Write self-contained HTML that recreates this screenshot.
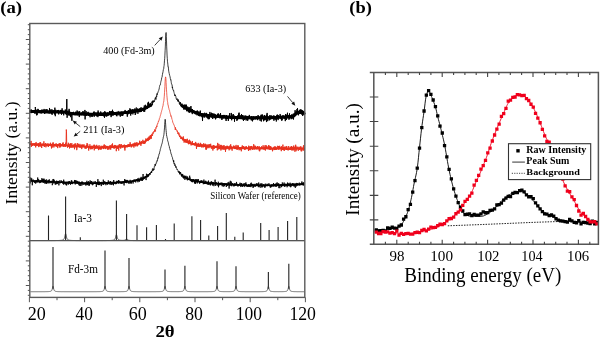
<!DOCTYPE html>
<html><head><meta charset="utf-8"><style>
html,body{margin:0;padding:0;background:#fff;}
body{width:602px;height:338px;overflow:hidden;}
svg{display:block;filter:blur(0.3px);}
</style></head><body>
<svg width="602" height="338" viewBox="0 0 602 338" font-family='"Liberation Serif", serif'>
<rect width="602" height="338" fill="#fff"/>
<polyline points="30.50,111.57 31.50,111.58 32.50,111.60 33.50,111.61 34.50,111.62 35.50,111.63 36.50,111.65 37.50,111.66 38.50,111.67 39.50,111.68 40.50,111.70 41.50,111.71 42.50,111.72 43.50,111.73 44.50,111.74 45.50,111.76 46.50,111.77 47.50,111.78 48.50,111.79 49.50,111.80 50.50,111.81 51.50,111.83 52.50,111.84 53.50,111.85 54.50,111.86 55.50,111.87 56.50,111.88 57.50,111.89 58.50,111.90 59.50,111.91 60.50,111.93 61.50,111.94 62.50,111.95 63.50,111.96 64.50,112.11 65.50,112.40 66.50,112.70 67.50,112.99 68.50,113.29 69.50,113.58 70.50,113.74 71.50,113.77 72.50,113.80 73.50,113.83 74.50,113.85 75.50,113.88 76.50,113.91 77.50,113.93 78.50,113.96 79.50,113.99 80.50,114.01 81.50,114.04 82.50,114.06 83.50,114.09 84.50,114.11 85.50,114.13 86.50,114.16 87.50,114.18 88.50,114.20 89.50,114.23 90.50,114.25 91.50,114.27 92.50,114.29 93.50,114.31 94.50,114.33 95.50,114.35 96.50,114.37 97.50,114.39 98.50,114.41 99.50,114.43 100.50,114.40 101.50,114.35 102.50,114.29 103.50,114.23 104.50,114.17 105.50,114.11 106.50,114.05 107.50,113.98 108.50,113.92 109.50,113.85 110.50,113.78 111.50,113.71 112.50,113.64 113.50,113.57 114.50,113.50 115.50,113.42 116.50,113.34 117.50,113.26 118.50,113.18 119.50,113.09 120.50,113.00 121.50,112.91 122.50,112.82 123.50,112.72 124.50,112.61 125.50,112.51 126.50,112.39 127.50,112.27 128.50,112.15 129.50,112.02 130.50,111.88 131.50,111.73 132.50,111.58 133.50,111.41 134.50,111.23 135.50,111.06 136.50,110.87 137.50,110.67 138.50,110.45 139.50,110.22 140.50,109.95 141.50,109.66 142.50,109.34 143.50,108.99 144.50,108.59 145.50,108.14 146.50,107.64 147.50,107.07 148.50,106.43 149.50,105.69" fill="none" stroke="#000" stroke-width="3.0" stroke-linejoin="round" stroke-linecap="round"/>
<polyline points="182.10,105.73 183.10,106.53 184.10,107.23 185.10,107.85 186.10,108.40 187.10,108.89 188.10,109.33 189.10,109.72 190.10,110.10 191.10,110.61 192.10,111.09 193.10,111.55 194.10,111.99 195.10,112.40 196.10,112.80 197.10,113.19 198.10,113.56 199.10,113.92 200.10,114.25 201.10,114.43 202.10,114.59 203.10,114.74 204.10,114.89 205.10,115.03 206.10,115.16 207.10,115.29 208.10,115.42 209.10,115.54 210.10,115.66 211.10,115.77 212.10,115.88 213.10,115.99 214.10,116.09 215.10,116.19 216.10,116.29 217.10,116.39 218.10,116.48 219.10,116.58 220.10,116.67 221.10,116.76 222.10,116.85 223.10,116.93 224.10,117.02 225.10,117.10 226.10,117.14 227.10,117.17 228.10,117.21 229.10,117.25 230.10,117.28 231.10,117.32 232.10,117.35 233.10,117.38 234.10,117.41 235.10,117.44 236.10,117.47 237.10,117.50 238.10,117.53 239.10,117.56 240.10,117.59 241.10,117.62 242.10,117.65 243.10,117.67 244.10,117.70 245.10,117.73 246.10,117.75 247.10,117.78 248.10,117.80 249.10,117.83 250.10,117.85 251.10,117.85 252.10,117.84 253.10,117.84 254.10,117.84 255.10,117.84 256.10,117.83 257.10,117.83 258.10,117.83 259.10,117.82 260.10,117.82 261.10,117.81 262.10,117.81 263.10,117.81 264.10,117.80 265.10,117.80 266.10,117.79 267.10,117.79 268.10,117.78 269.10,117.78 270.10,117.76 271.10,117.71 272.10,117.65 273.10,117.60 274.10,117.54 275.10,117.49 276.10,117.43 277.10,117.37 278.10,117.32 279.10,117.26 280.10,117.20 281.10,117.15 282.10,117.09 283.10,117.03 284.10,116.98 285.10,116.92 286.10,116.86 287.10,116.80 288.10,116.75 289.10,116.69 290.10,116.62 291.10,116.42 292.10,116.22 293.10,116.03 294.10,115.73 295.10,114.57 296.10,113.40 297.10,112.36 298.10,112.36 299.10,112.36 300.10,112.31 301.10,111.81 302.10,111.47 303.10,112.47 304.10,113.47" fill="none" stroke="#000" stroke-width="3.0" stroke-linejoin="round" stroke-linecap="round"/>
<polyline points="30.50,112.16 30.70,112.97 30.90,112.14 31.10,109.36 31.30,113.12 31.50,112.34 31.70,110.67 31.90,112.58 32.10,112.21 32.30,112.09 32.50,111.65 32.70,112.53 32.90,110.35 33.10,111.33 33.30,110.79 33.50,112.63 33.70,111.68 33.90,111.12 34.10,110.29 34.30,111.18 34.50,111.64 34.70,111.16 34.90,113.83 35.10,113.34 35.30,107.02 35.50,108.42 35.70,111.34 35.90,110.92 36.10,112.01 36.30,112.01 36.50,115.25 36.70,109.76 36.90,111.01 37.10,115.13 37.30,112.76 37.50,112.79 37.70,110.79 37.90,108.86 38.10,111.95 38.30,111.85 38.50,109.59 38.70,110.51 38.90,111.55 39.10,110.07 39.30,111.51 39.50,111.85 39.70,111.75 39.90,110.83 40.10,112.70 40.30,113.21 40.50,112.24 40.70,110.31 40.90,112.94 41.10,110.85 41.30,113.20 41.50,109.89 41.70,113.27 41.90,111.68 42.10,109.59 42.30,111.18 42.50,111.81 42.70,112.19 42.90,110.06 43.10,109.85 43.30,112.07 43.50,110.94 43.70,112.14 43.90,113.03 44.10,108.94 44.30,112.17 44.50,113.83 44.70,111.24 44.90,110.37 45.10,113.03 45.30,112.18 45.50,113.28 45.70,111.17 45.90,109.24 46.10,111.58 46.30,111.01 46.50,113.09 46.70,112.10 46.90,109.00 47.10,109.74 47.30,113.28 47.50,112.94 47.70,110.69 47.90,111.78 48.10,112.54 48.30,112.59 48.50,113.28 48.70,112.23 48.90,111.64 49.10,111.36 49.30,113.60 49.50,107.98 49.70,111.57 49.90,111.86 50.10,109.39 50.30,112.38 50.50,110.71 50.70,113.28 50.90,111.61 51.10,112.96 51.30,113.90 51.50,112.48 51.70,110.34 51.90,109.26 52.10,114.81 52.30,111.65 52.50,110.67 52.70,112.09 52.90,111.52 53.10,113.29 53.30,111.90 53.50,111.87 53.70,110.64 53.90,112.65 54.10,110.10 54.30,112.99 54.50,114.45 54.70,109.27 54.90,107.67 55.10,112.92 55.30,116.20 55.50,110.17 55.70,109.75 55.90,112.88 56.10,110.45 56.30,111.02 56.50,111.29 56.70,112.79 56.90,111.20 57.10,112.36 57.30,111.59 57.50,110.46 57.70,111.35 57.90,110.28 58.10,111.91 58.30,109.99 58.50,110.05 58.70,114.38 58.90,111.82 59.10,111.82 59.30,112.78 59.50,111.20 59.70,111.53 59.90,112.64 60.10,112.40 60.30,109.95 60.50,113.34 60.70,110.92 60.90,110.13 61.10,110.40 61.30,111.27 61.50,114.70 61.70,109.94 61.90,112.21 62.10,108.31 62.30,111.94 62.50,113.48 62.70,111.55 62.90,110.88 63.10,112.35 63.30,113.14 63.50,113.08 63.70,115.31 63.90,112.32 64.10,110.98 64.30,111.84 64.50,111.99 64.70,112.35 64.90,112.18 65.10,112.58 65.30,109.50 65.50,113.81 65.70,111.49 65.90,110.53 66.10,113.67 66.30,114.88 66.50,113.54 66.70,99.03 66.90,99.33 67.10,117.76 67.30,114.43 67.50,111.06 67.70,111.73 67.90,113.26 68.10,110.53 68.30,113.52 68.50,112.51 68.70,115.43 68.90,115.04 69.10,108.86 69.30,113.60 69.50,110.83 69.70,115.53 69.90,113.99 70.10,114.67 70.30,111.93 70.50,116.85 70.70,117.18 70.90,111.95 71.10,114.39 71.30,112.62 71.50,113.73 71.70,116.13 71.90,120.78 72.10,112.14 72.30,113.29 72.50,114.65 72.70,112.70 72.90,113.40 73.10,112.86 73.30,113.59 73.50,111.84 73.70,113.09 73.90,113.49 74.10,113.28 74.30,113.94 74.50,113.36 74.70,115.14 74.90,113.31 75.10,113.64 75.30,112.74 75.50,112.99 75.70,111.74 75.90,114.77 76.10,111.95 76.30,112.63 76.50,114.52 76.70,114.60 76.90,113.24 77.10,110.49 77.30,114.64 77.50,114.37 77.70,111.54 77.90,115.25 78.10,112.76 78.30,112.04 78.50,114.12 78.70,113.66 78.90,114.31 79.10,111.25 79.30,117.06 79.50,112.96 79.70,111.37 79.90,115.05 80.10,113.40 80.30,114.56 80.50,113.43 80.70,113.91 80.90,114.44 81.10,112.76 81.30,115.18 81.50,113.24 81.70,112.56 81.90,114.18 82.10,114.81 82.30,113.67 82.50,112.59 82.70,115.12 82.90,111.08 83.10,112.32 83.30,114.15 83.50,111.77 83.70,114.14 83.90,114.00 84.10,115.63 84.30,112.55 84.50,113.05 84.70,114.68 84.90,109.94 85.10,119.39 85.30,112.94 85.50,112.89 85.70,115.60 85.90,114.08 86.10,111.12 86.30,115.22 86.50,115.61 86.70,113.40 86.90,113.69 87.10,115.00 87.30,112.63 87.50,114.93 87.70,114.52 87.90,113.04 88.10,111.83 88.30,113.82 88.50,112.72 88.70,115.91 88.90,114.46 89.10,115.55 89.30,114.45 89.50,114.67 89.70,112.90 89.90,115.37 90.10,117.27 90.30,113.72 90.50,113.24 90.70,113.99 90.90,113.44 91.10,113.07 91.30,114.50 91.50,113.78 91.70,116.72 91.90,114.28 92.10,114.83 92.30,115.91 92.50,113.78 92.70,116.74 92.90,113.22 93.10,112.93 93.30,113.69 93.50,114.12 93.70,111.93 93.90,114.26 94.10,111.49 94.30,116.70 94.50,114.20 94.70,113.25 94.90,112.80 95.10,113.69 95.30,113.97 95.50,112.58 95.70,112.79 95.90,114.04 96.10,113.48 96.30,115.96 96.50,116.31 96.70,114.40 96.90,115.18 97.10,112.11 97.30,115.47 97.50,114.34 97.70,115.22 97.90,117.12 98.10,110.52 98.30,114.85 98.50,112.54 98.70,115.42 98.90,112.18 99.10,113.58 99.30,114.77 99.50,115.47 99.70,114.56 99.90,113.08 100.10,113.49 100.30,115.92 100.50,114.40 100.70,111.53 100.90,115.82 101.10,115.08 101.30,115.84 101.50,113.77 101.70,115.74 101.90,112.52 102.10,115.28 102.30,113.47 102.50,115.44 102.70,115.99 102.90,113.01 103.10,114.17 103.30,114.31 103.50,116.25 103.70,115.43 103.90,112.13 104.10,114.97 104.30,115.45 104.50,117.78 104.70,111.30 104.90,113.23 105.10,116.40 105.30,111.82 105.50,112.07 105.70,114.97 105.90,115.81 106.10,112.93 106.30,114.98 106.50,114.24 106.70,116.61 106.90,114.02 107.10,115.69 107.30,112.46 107.50,113.67 107.70,113.80 107.90,115.89 108.10,114.93 108.30,112.65 108.50,115.08 108.70,115.21 108.90,113.70 109.10,113.44 109.30,113.53 109.50,110.97 109.70,114.16 109.90,114.22 110.10,112.34 110.30,115.06 110.50,111.45 110.70,112.83 110.90,112.95 111.10,117.12 111.30,111.01 111.50,114.67 111.70,115.30 111.90,114.33 112.10,115.68 112.30,111.95 112.50,109.77 112.70,114.93 112.90,111.58 113.10,113.05 113.30,111.58 113.50,115.36 113.70,115.03 113.90,112.32 114.10,115.06 114.30,113.72 114.50,113.26 114.70,113.58 114.90,113.12 115.10,114.50 115.30,113.96 115.50,112.83 115.70,115.12 115.90,112.35 116.10,113.86 116.30,114.08 116.50,115.86 116.70,112.47 116.90,116.27 117.10,113.59 117.30,112.95 117.50,112.12 117.70,114.24 117.90,113.31 118.10,111.34 118.30,111.28 118.50,112.23 118.70,112.01 118.90,115.00 119.10,115.47 119.30,114.59 119.50,113.70 119.70,112.35 119.90,113.15 120.10,114.54 120.30,116.65 120.50,114.56 120.70,112.51 120.90,113.03 121.10,112.13 121.30,111.60 121.50,112.60 121.70,113.23 121.90,116.00 122.10,112.94 122.30,115.14 122.50,115.82 122.70,112.93 122.90,115.51 123.10,113.97 123.30,112.03 123.50,113.17 123.70,112.74 123.90,112.28 124.10,112.32 124.30,112.88 124.50,113.35 124.70,111.09 124.90,112.56 125.10,109.96 125.30,112.97 125.50,113.57 125.70,112.76 125.90,112.95 126.10,113.44 126.30,111.29 126.50,111.99 126.70,113.24 126.90,114.05 127.10,112.99 127.30,116.64 127.50,112.12 127.70,113.95 127.90,114.38 128.10,111.97 128.30,110.78 128.50,110.14 128.70,112.40 128.90,113.99 129.10,112.53 129.30,112.34 129.50,111.37 129.70,112.95 129.90,108.33 130.10,112.33 130.30,111.96 130.50,109.55 130.70,115.55 130.90,109.46 131.10,109.96 131.30,109.72 131.50,113.62 131.70,110.19 131.90,112.81 132.10,112.64 132.30,112.05 132.50,109.36 132.70,110.51 132.90,114.36 133.10,109.29 133.30,110.03 133.50,111.14 133.70,112.75 133.90,111.77 134.10,112.57 134.30,109.46 134.50,112.84 134.70,112.17 134.90,108.45 135.10,113.74 135.30,114.99 135.50,109.75 135.70,111.11 135.90,113.36 136.10,108.43 136.30,107.53 136.50,108.67 136.70,109.87 136.90,109.81 137.10,111.79 137.30,111.17 137.50,108.55 137.70,111.59 137.90,113.77 138.10,112.58 138.30,112.18 138.50,110.49 138.70,112.08 138.90,108.72 139.10,111.59 139.30,110.12 139.50,112.14 139.70,110.96 139.90,108.26 140.10,110.28 140.30,112.08 140.50,108.03 140.70,108.95 140.90,108.53 141.10,107.24 141.30,111.36 141.50,111.89 141.70,110.96 141.90,109.95 142.10,109.39 142.30,109.82 142.50,108.10 142.70,110.79 142.90,110.98 143.10,110.72 143.30,108.16 143.50,109.12 143.70,108.63 143.90,111.87 144.10,109.06 144.30,105.47 144.50,109.27 144.70,111.70 144.90,109.58 145.10,109.82 145.30,108.30 145.50,104.79 145.70,104.97 145.90,105.83 146.10,107.64 146.30,108.27 146.50,108.78 146.70,106.98 146.90,108.98 147.10,106.86 147.30,106.07 147.50,108.41 147.70,105.53 147.90,102.63 148.10,105.09 148.30,106.71 148.50,101.85 148.70,105.77 148.90,105.66 149.10,103.95 149.30,103.74 149.50,105.04 149.70,104.78 149.90,107.09 150.10,105.71 150.30,102.92 150.50,103.72 150.70,105.58 150.90,106.91 151.10,104.77 151.30,104.47 151.50,106.17 151.70,103.63 151.90,103.07 152.10,101.55" fill="none" stroke="#000" stroke-width="1.0" stroke-linejoin="round" />
<polyline points="151.90,103.07 152.10,101.55 152.30,102.39 152.50,105.25 152.70,100.89 152.90,102.26 153.10,100.44 153.30,101.85 153.50,102.38 153.70,100.89 153.90,101.60 154.10,101.27 154.30,100.67 154.50,101.58 154.70,100.31 154.90,98.93 155.10,98.23 155.30,97.72 155.50,98.53 155.70,97.43 155.90,99.65 156.10,98.43 156.30,96.27 156.50,95.74 156.70,96.88 156.90,93.61 157.10,94.23 157.30,94.77 157.50,92.88 157.70,92.66 157.90,92.20 158.10,92.32 158.30,91.37 158.50,90.93 158.70,90.42 158.90,89.42 159.10,89.39 159.30,87.65 159.50,86.57 159.70,85.70 159.90,85.07 160.10,84.89 160.30,84.89 160.50,83.68 160.70,82.53 160.90,81.51 161.10,80.91 161.30,80.10 161.50,79.16 161.70,77.89 161.90,77.39 162.10,77.10 162.30,74.79 162.50,74.64 162.70,72.84 162.90,72.79 163.10,71.32 163.30,69.63 163.50,69.37 163.70,68.82 163.90,66.68 164.10,65.55 164.30,63.21 164.50,60.19 164.70,58.72 164.90,55.15 165.10,50.77 165.30,46.96 165.50,41.38 165.70,35.92 165.90,33.23 166.10,32.49 166.30,36.43 166.50,40.87 166.70,46.87 166.90,50.94 167.10,55.99 167.30,58.65 167.50,61.75 167.70,62.93 167.90,64.90 168.10,67.04 168.30,66.93 168.50,68.93 168.70,71.02 168.90,71.90 169.10,73.20 169.30,73.69 169.50,75.06 169.70,75.49 169.90,76.17 170.10,76.96 170.30,78.36 170.50,79.26 170.70,80.11 170.90,79.73 171.10,81.22 171.30,82.67 171.50,83.86 171.70,84.24 171.90,84.85 172.10,84.85 172.30,87.87 172.50,86.90 172.70,89.17 172.90,89.81 173.10,89.73 173.30,89.86 173.50,90.93 173.70,90.70 173.90,92.22 174.10,92.63 174.30,93.56 174.50,94.42 174.70,95.54 174.90,94.48 175.10,96.07 175.30,95.12 175.50,95.49 175.70,96.16 175.90,96.28 176.10,98.37 176.30,98.75 176.50,99.47 176.70,98.70 176.90,99.35 177.10,98.92 177.30,98.71 177.50,100.59 177.70,100.75 177.90,99.69 178.10,101.72 178.30,99.60 178.50,101.52 178.70,101.31 178.90,101.69 179.10,101.33 179.30,103.87 179.50,103.70 179.70,104.67 179.90,103.68 180.10,102.20" fill="none" stroke="#000" stroke-width="0.75" stroke-linejoin="round" />
<polyline points="179.90,103.68 180.10,102.20 180.30,103.52 180.50,102.73 180.70,104.97 180.90,106.13 181.10,105.22 181.30,104.21 181.50,104.69 181.70,105.63 181.90,103.58 182.10,105.91 182.30,106.15 182.50,105.28 182.70,105.61 182.90,106.60 183.10,105.31 183.30,105.44 183.50,107.95 183.70,107.27 183.90,109.62 184.10,105.68 184.30,104.56 184.50,108.93 184.70,109.10 184.90,106.51 185.10,105.43 185.30,107.85 185.50,105.13 185.70,107.57 185.90,104.55 186.10,107.94 186.30,104.84 186.50,108.14 186.70,111.22 186.90,108.28 187.10,110.14 187.30,107.83 187.50,107.49 187.70,106.55 187.90,110.95 188.10,109.16 188.30,112.10 188.50,107.42 188.70,109.12 188.90,109.71 189.10,112.05 189.30,112.82 189.50,108.69 189.70,107.93 189.90,106.98 190.10,112.29 190.30,109.97 190.50,109.12 190.70,110.23 190.90,106.07 191.10,107.59 191.30,112.21 191.50,111.39 191.70,111.07 191.90,109.21 192.10,112.00 192.30,114.12 192.50,109.11 192.70,111.30 192.90,110.63 193.10,112.07 193.30,111.57 193.50,111.39 193.70,110.22 193.90,111.78 194.10,110.85 194.30,111.73 194.50,111.96 194.70,113.26 194.90,111.24 195.10,111.76 195.30,114.22 195.50,112.10 195.70,112.11 195.90,114.10 196.10,113.18 196.30,112.95 196.50,113.24 196.70,110.84 196.90,113.81 197.10,115.35 197.30,114.17 197.50,110.61 197.70,113.81 197.90,111.87 198.10,113.10 198.30,113.78 198.50,111.60 198.70,115.98 198.90,113.66 199.10,115.20 199.30,115.00 199.50,116.28 199.70,116.09 199.90,111.63 200.10,114.26 200.30,110.60 200.50,113.50 200.70,115.51 200.90,115.88 201.10,116.56 201.30,113.76 201.50,114.98 201.70,114.63 201.90,116.65 202.10,117.23 202.30,113.95 202.50,121.03 202.70,114.62 202.90,114.03 203.10,115.71 203.30,116.01 203.50,115.68 203.70,113.67 203.90,117.31 204.10,114.93 204.30,117.48 204.50,117.27 204.70,112.77 204.90,113.29 205.10,113.29 205.30,115.44 205.50,115.14 205.70,115.53 205.90,113.72 206.10,115.86 206.30,117.54 206.50,112.92 206.70,114.88 206.90,115.66 207.10,115.04 207.30,114.96 207.50,118.32 207.70,117.52 207.90,116.81 208.10,114.10 208.30,119.23 208.50,116.06 208.70,114.48 208.90,114.92 209.10,114.68 209.30,119.14 209.50,115.91 209.70,115.69 209.90,111.95 210.10,116.89 210.30,113.86 210.50,113.76 210.70,116.74 210.90,114.26 211.10,117.17 211.30,117.68 211.50,112.75 211.70,115.58 211.90,113.16 212.10,115.75 212.30,117.43 212.50,113.58 212.70,118.99 212.90,115.41 213.10,113.95 213.30,115.77 213.50,117.35 213.70,113.68 213.90,116.05 214.10,113.73 214.30,118.13 214.50,116.37 214.70,115.40 214.90,117.90 215.10,113.97 215.30,115.51 215.50,119.34 215.70,116.01 215.90,118.55 216.10,116.59 216.30,115.09 216.50,115.88 216.70,116.45 216.90,115.64 217.10,114.95 217.30,115.04 217.50,113.87 217.70,116.60 217.90,117.10 218.10,117.72 218.30,113.40 218.50,117.85 218.70,116.47 218.90,114.09 219.10,116.71 219.30,117.94 219.50,117.46 219.70,117.83 219.90,118.22 220.10,118.15 220.30,116.59 220.50,113.13 220.70,115.39 220.90,117.31 221.10,115.92 221.30,117.90 221.50,118.11 221.70,116.86 221.90,119.99 222.10,115.15 222.30,118.41 222.50,116.04 222.70,115.54 222.90,117.88 223.10,115.85 223.30,118.38 223.50,114.95 223.70,117.01 223.90,115.53 224.10,116.59 224.30,116.37 224.50,115.10 224.70,118.15 224.90,114.94 225.10,115.40 225.30,118.59 225.50,118.74 225.70,118.22 225.90,117.68 226.10,120.98 226.30,115.06 226.50,115.86 226.70,115.44 226.90,118.67 227.10,117.63 227.30,119.04 227.50,118.81 227.70,116.79 227.90,115.78 228.10,115.50 228.30,120.95 228.50,118.84 228.70,118.21 228.90,116.64 229.10,116.88 229.30,116.64 229.50,116.68 229.70,113.16 229.90,117.15 230.10,116.61 230.30,117.76 230.50,117.63 230.70,118.73 230.90,117.26 231.10,118.65 231.30,112.94 231.50,115.43 231.70,120.25 231.90,115.25 232.10,116.85 232.30,118.53 232.50,115.84 232.70,118.57 232.90,114.92 233.10,114.10 233.30,115.10 233.50,114.56 233.70,117.35 233.90,116.84 234.10,117.95 234.30,115.63 234.50,121.72 234.70,117.25 234.90,117.34 235.10,118.20 235.30,117.01 235.50,116.36 235.70,117.58 235.90,119.01 236.10,118.58 236.30,119.06 236.50,116.50 236.70,116.15 236.90,120.88 237.10,117.08 237.30,118.30 237.50,118.75 237.70,119.92 237.90,115.21 238.10,116.70 238.30,116.78 238.50,117.01 238.70,113.43 238.90,117.37 239.10,112.62 239.30,118.06 239.50,118.47 239.70,118.58 239.90,115.52 240.10,119.20 240.30,116.11 240.50,115.50 240.70,115.93 240.90,116.16 241.10,117.90 241.30,119.01 241.50,114.04 241.70,116.70 241.90,119.16 242.10,117.98 242.30,118.50 242.50,115.10 242.70,119.28 242.90,115.00 243.10,118.00 243.30,119.99 243.50,120.88 243.70,118.56 243.90,119.19 244.10,116.67 244.30,116.89 244.50,119.70 244.70,117.72 244.90,117.50 245.10,115.33 245.30,117.99 245.50,118.83 245.70,116.39 245.90,116.88 246.10,120.44 246.30,118.06 246.50,117.27 246.70,115.83 246.90,116.72 247.10,117.35 247.30,120.11 247.50,116.75 247.70,120.84 247.90,116.22 248.10,117.19 248.30,119.24 248.50,117.40 248.70,116.41 248.90,117.60 249.10,118.59 249.30,114.91 249.50,117.41 249.70,117.66 249.90,117.16 250.10,119.10 250.30,116.88 250.50,117.23 250.70,117.91 250.90,119.09 251.10,117.47 251.30,120.42 251.50,116.30 251.70,120.03 251.90,116.39 252.10,117.57 252.30,118.46 252.50,121.34 252.70,119.37 252.90,117.15 253.10,120.05 253.30,117.48 253.50,116.50 253.70,118.60 253.90,118.00 254.10,119.46 254.30,116.90 254.50,118.49 254.70,118.92 254.90,118.31 255.10,117.79 255.30,116.65 255.50,119.37 255.70,118.07 255.90,118.68 256.10,117.24 256.30,117.85 256.50,116.07 256.70,117.98 256.90,119.13 257.10,117.99 257.30,119.29 257.50,118.36 257.70,120.15 257.90,117.50 258.10,115.04 258.30,118.56 258.50,117.54 258.70,116.17 258.90,118.93 259.10,118.27 259.30,118.58 259.50,117.26 259.70,118.16 259.90,118.25 260.10,120.84 260.30,116.65 260.50,117.80 260.70,118.43 260.90,114.88 261.10,115.09 261.30,121.50 261.50,114.81 261.70,118.79 261.90,116.37 262.10,116.51 262.30,114.44 262.50,116.28 262.70,119.14 262.90,115.45 263.10,118.82 263.30,118.34 263.50,121.23 263.70,117.00 263.90,119.95 264.10,119.31 264.30,117.31 264.50,114.97 264.70,120.36 264.90,115.48 265.10,116.99 265.30,119.30 265.50,119.69 265.70,116.36 265.90,117.74 266.10,117.35 266.30,119.80 266.50,122.05 266.70,114.68 266.90,119.34 267.10,112.93 267.30,117.81 267.50,115.90 267.70,121.17 267.90,118.06 268.10,116.53 268.30,116.93 268.50,116.80 268.70,118.10 268.90,117.51 269.10,118.89 269.30,120.39 269.50,118.97 269.70,115.69 269.90,115.01 270.10,116.48 270.30,119.54 270.50,117.17 270.70,116.60 270.90,117.96 271.10,115.30 271.30,115.76 271.50,118.55 271.70,117.16 271.90,116.89 272.10,118.19 272.30,116.65 272.50,116.46 272.70,116.84 272.90,118.63 273.10,117.70 273.30,115.56 273.50,117.06 273.70,118.67 273.90,120.73 274.10,115.60 274.30,118.11 274.50,117.08 274.70,118.91 274.90,118.26 275.10,119.99 275.30,118.36 275.50,116.54 275.70,116.54 275.90,118.13 276.10,118.10 276.30,121.49 276.50,120.26 276.70,115.40 276.90,117.98 277.10,115.11 277.30,114.55 277.50,118.61 277.70,118.28 277.90,115.56 278.10,120.11 278.30,115.64 278.50,115.31 278.70,118.39 278.90,117.65 279.10,116.99 279.30,117.13 279.50,117.62 279.70,116.99 279.90,116.92 280.10,113.98 280.30,114.91 280.50,118.22 280.70,115.97 280.90,118.08 281.10,119.25 281.30,116.53 281.50,117.60 281.70,120.64 281.90,118.28 282.10,120.22 282.30,119.68 282.50,118.35 282.70,116.87 282.90,115.61 283.10,115.14 283.30,117.85 283.50,117.81 283.70,116.70 283.90,118.43 284.10,115.95 284.30,118.85 284.50,117.02 284.70,116.88 284.90,116.93 285.10,116.75 285.30,121.14 285.50,114.16 285.70,117.19 285.90,118.99 286.10,118.08 286.30,116.34 286.50,119.80 286.70,115.01 286.90,114.59 287.10,117.77 287.30,114.32 287.50,112.74 287.70,118.27 287.90,118.05 288.10,117.99 288.30,115.91 288.50,117.04 288.70,115.07 288.90,119.65 289.10,118.03 289.30,117.94 289.50,113.35 289.70,118.03 289.90,119.18 290.10,118.69 290.30,117.92 290.50,116.54 290.70,115.92 290.90,117.48 291.10,117.07 291.30,116.78 291.50,115.82 291.70,119.16 291.90,114.28 292.10,116.18 292.30,115.20 292.50,117.90 292.70,118.54 292.90,118.18 293.10,117.31 293.30,113.60 293.50,119.48 293.70,116.79 293.90,115.68 294.10,115.77 294.30,114.92 294.50,115.99 294.70,115.56 294.90,114.19 295.10,110.20 295.30,114.27 295.50,114.91 295.70,114.76 295.90,113.37 296.10,114.17 296.30,114.92 296.50,112.14 296.70,115.20 296.90,109.15 297.10,110.21 297.30,110.82 297.50,108.20 297.70,110.66 297.90,114.48 298.10,114.47 298.30,112.52 298.50,115.28 298.70,112.77 298.90,111.51 299.10,112.77 299.30,112.13 299.50,113.61 299.70,109.81 299.90,114.06 300.10,111.53 300.30,113.67 300.50,109.49 300.70,111.30 300.90,112.05 301.10,113.35 301.30,109.64 301.50,114.45 301.70,112.34 301.90,110.52 302.10,113.53 302.30,111.84 302.50,113.84 302.70,116.02 302.90,113.57 303.10,111.57 303.30,111.94 303.50,113.86 303.70,113.56 303.90,111.85 304.10,112.33" fill="none" stroke="#000" stroke-width="1.0" stroke-linejoin="round" />
<polyline points="30.50,144.33 31.50,144.36 32.50,144.40 33.50,144.43 34.50,144.46 35.50,144.50 36.50,144.53 37.50,144.56 38.50,144.60 39.50,144.63 40.50,144.66 41.50,144.69 42.50,144.73 43.50,144.76 44.50,144.79 45.50,144.82 46.50,144.86 47.50,144.89 48.50,144.92 49.50,144.95 50.50,144.98 51.50,145.01 52.50,145.05 53.50,145.08 54.50,145.11 55.50,145.14 56.50,145.17 57.50,145.20 58.50,145.23 59.50,145.26 60.50,145.29 61.50,145.32 62.50,145.35 63.50,145.38 64.50,145.41 65.50,145.44 66.50,145.49 67.50,145.56 68.50,145.62 69.50,145.69 70.50,145.75 71.50,145.82 72.50,145.89 73.50,145.95 74.50,146.02 75.50,146.08 76.50,146.14 77.50,146.21 78.50,146.27 79.50,146.33 80.50,146.40 81.50,146.46 82.50,146.52 83.50,146.58 84.50,146.64 85.50,146.71 86.50,146.77 87.50,146.83 88.50,146.88 89.50,146.94 90.50,147.00 91.50,147.06 92.50,147.12 93.50,147.17 94.50,147.23 95.50,147.28 96.50,147.34 97.50,147.39 98.50,147.44 99.50,147.49 100.50,147.50 101.50,147.48 102.50,147.45 103.50,147.42 104.50,147.39 105.50,147.35 106.50,147.32 107.50,147.28 108.50,147.24 109.50,147.21 110.50,147.16 111.50,147.12 112.50,147.07 113.50,147.03 114.50,146.98 115.50,146.92 116.50,146.87 117.50,146.81 118.50,146.75 119.50,146.68 120.50,146.61 121.50,146.53 122.50,146.45 123.50,146.37 124.50,146.28 125.50,146.18 126.50,146.08 127.50,145.97 128.50,145.85 129.50,145.72 130.50,145.58 131.50,145.43 132.50,145.27 133.50,145.09 134.50,144.90 135.50,144.69 136.50,144.46 137.50,144.21 138.50,143.94 139.50,143.64 140.50,143.31 141.50,142.94 142.50,142.54 143.50,142.09 144.50,141.59 145.50,141.03 146.50,140.40 147.50,139.69 148.50,138.89 149.50,137.98" fill="none" stroke="#e8321f" stroke-width="2.0" stroke-linejoin="round" stroke-linecap="round"/>
<polyline points="181.70,137.89 182.70,138.79 183.70,139.58 184.70,140.29 185.70,140.91 186.70,141.47 187.70,141.96 188.70,142.41 189.70,142.81 190.70,143.17 191.70,143.49 192.70,143.79 193.70,144.05 194.70,144.30 195.70,144.52 196.70,144.72 197.70,144.91 198.70,145.08 199.70,145.24 200.70,145.40 201.70,145.55 202.70,145.69 203.70,145.82 204.70,145.95 205.70,146.07 206.70,146.18 207.70,146.28 208.70,146.38 209.70,146.48 210.70,146.56 211.70,146.65 212.70,146.73 213.70,146.81 214.70,146.88 215.70,146.95 216.70,147.02 217.70,147.08 218.70,147.14 219.70,147.20 220.70,147.26 221.70,147.32 222.70,147.37 223.70,147.42 224.70,147.47 225.70,147.52 226.70,147.57 227.70,147.61 228.70,147.66 229.70,147.70 230.70,147.74 231.70,147.78 232.70,147.82 233.70,147.86 234.70,147.90 235.70,147.94 236.70,147.97 237.70,148.01 238.70,148.04 239.70,148.08 240.70,148.10 241.70,148.12 242.70,148.13 243.70,148.14 244.70,148.16 245.70,148.17 246.70,148.18 247.70,148.20 248.70,148.21 249.70,148.22 250.70,148.23 251.70,148.24 252.70,148.25 253.70,148.26 254.70,148.27 255.70,148.28 256.70,148.29 257.70,148.30 258.70,148.31 259.70,148.32 260.70,148.32 261.70,148.33 262.70,148.34 263.70,148.35 264.70,148.35 265.70,148.36 266.70,148.37 267.70,148.37 268.70,148.38 269.70,148.39 270.70,148.39 271.70,148.40 272.70,148.40 273.70,148.41 274.70,148.41 275.70,148.42 276.70,148.42 277.70,148.43 278.70,148.43 279.70,148.44 280.70,148.44 281.70,148.45 282.70,148.45 283.70,148.46 284.70,148.46 285.70,148.46 286.70,148.47 287.70,148.47 288.70,148.47 289.70,148.48 290.70,148.48 291.70,148.49 292.70,148.49 293.70,148.49 294.70,148.50 295.70,148.50 296.70,148.50 297.70,148.50 298.70,148.51 299.70,148.51 300.70,148.51 301.70,148.52 302.70,148.52 303.70,148.52" fill="none" stroke="#e8321f" stroke-width="2.0" stroke-linejoin="round" stroke-linecap="round"/>
<polyline points="30.50,144.60 30.70,143.61 30.90,143.77 31.10,140.93 31.30,146.88 31.50,145.97 31.70,143.92 31.90,145.46 32.10,144.78 32.30,143.62 32.50,145.77 32.70,143.97 32.90,143.95 33.10,143.31 33.30,145.06 33.50,144.29 33.70,145.20 33.90,143.59 34.10,144.63 34.30,143.21 34.50,145.64 34.70,144.73 34.90,144.94 35.10,145.06 35.30,143.08 35.50,145.59 35.70,147.38 35.90,142.22 36.10,142.10 36.30,142.42 36.50,145.71 36.70,144.72 36.90,146.05 37.10,145.56 37.30,144.85 37.50,144.96 37.70,144.33 37.90,145.79 38.10,143.00 38.30,144.00 38.50,144.94 38.70,147.12 38.90,143.54 39.10,143.10 39.30,143.83 39.50,145.99 39.70,144.31 39.90,146.50 40.10,142.03 40.30,146.23 40.50,146.11 40.70,142.68 40.90,144.89 41.10,146.38 41.30,144.81 41.50,146.09 41.70,148.02 41.90,145.09 42.10,144.32 42.30,143.64 42.50,145.63 42.70,144.46 42.90,144.49 43.10,144.60 43.30,145.66 43.50,143.27 43.70,142.62 43.90,141.36 44.10,146.46 44.30,144.89 44.50,146.91 44.70,144.78 44.90,143.76 45.10,145.48 45.30,144.71 45.50,143.07 45.70,143.59 45.90,147.31 46.10,145.34 46.30,145.43 46.50,144.47 46.70,143.90 46.90,146.12 47.10,144.73 47.30,143.82 47.50,144.70 47.70,143.63 47.90,145.17 48.10,146.49 48.30,143.74 48.50,146.92 48.70,143.99 48.90,145.15 49.10,143.77 49.30,144.63 49.50,145.02 49.70,144.35 49.90,143.98 50.10,144.02 50.30,143.83 50.50,142.78 50.70,144.62 50.90,145.56 51.10,146.27 51.30,145.91 51.50,148.45 51.70,145.47 51.90,144.39 52.10,147.65 52.30,143.57 52.50,146.40 52.70,143.71 52.90,145.55 53.10,142.31 53.30,146.33 53.50,144.86 53.70,143.73 53.90,147.44 54.10,146.17 54.30,145.17 54.50,144.06 54.70,145.05 54.90,144.89 55.10,146.14 55.30,146.25 55.50,144.20 55.70,144.38 55.90,144.41 56.10,143.27 56.30,144.34 56.50,145.04 56.70,146.14 56.90,147.03 57.10,144.06 57.30,145.97 57.50,144.58 57.70,148.11 57.90,145.15 58.10,145.92 58.30,143.92 58.50,144.10 58.70,145.52 58.90,144.71 59.10,145.75 59.30,143.07 59.50,146.19 59.70,144.01 59.90,147.69 60.10,144.88 60.30,146.82 60.50,143.34 60.70,145.90 60.90,144.06 61.10,144.63 61.30,145.35 61.50,144.88 61.70,145.70 61.90,146.38 62.10,146.26 62.30,145.22 62.50,143.44 62.70,144.23 62.90,145.09 63.10,142.40 63.30,146.43 63.50,145.05 63.70,145.04 63.90,146.72 64.10,146.34 64.30,145.72 64.50,144.01 64.70,145.85 64.90,145.91 65.10,144.19 65.30,146.90 65.50,146.15 65.70,142.69 65.90,145.62 66.10,143.69 66.30,129.57 66.50,131.75 66.70,143.96 66.90,144.28 67.10,145.67 67.30,145.21 67.50,147.69 67.70,146.61 67.90,145.19 68.10,146.40 68.30,142.76 68.50,146.06 68.70,146.85 68.90,145.40 69.10,144.67 69.30,146.47 69.50,148.43 69.70,145.99 69.90,144.15 70.10,147.75 70.30,143.11 70.50,146.46 70.70,144.95 70.90,147.08 71.10,144.60 71.30,147.66 71.50,146.24 71.70,143.42 71.90,143.08 72.10,145.42 72.30,147.68 72.50,146.06 72.70,145.99 72.90,145.58 73.10,146.96 73.30,146.47 73.50,146.34 73.70,144.59 73.90,147.64 74.10,147.90 74.30,144.18 74.50,149.24 74.70,147.04 74.90,145.36 75.10,143.39 75.30,146.99 75.50,146.86 75.70,145.26 75.90,143.60 76.10,147.69 76.30,145.31 76.50,145.48 76.70,150.14 76.90,149.15 77.10,147.52 77.30,145.56 77.50,147.12 77.70,143.03 77.90,146.38 78.10,145.18 78.30,144.46 78.50,144.06 78.70,147.02 78.90,146.42 79.10,146.53 79.30,147.50 79.50,145.15 79.70,144.62 79.90,143.87 80.10,145.90 80.30,147.45 80.50,146.19 80.70,147.31 80.90,144.77 81.10,145.78 81.30,145.38 81.50,144.71 81.70,149.08 81.90,147.68 82.10,145.43 82.30,145.44 82.50,146.44 82.70,144.52 82.90,147.16 83.10,144.75 83.30,146.05 83.50,145.15 83.70,145.92 83.90,144.74 84.10,144.42 84.30,145.28 84.50,145.69 84.70,146.24 84.90,146.77 85.10,148.82 85.30,147.83 85.50,146.35 85.70,147.73 85.90,145.77 86.10,148.77 86.30,147.52 86.50,144.87 86.70,147.84 86.90,147.93 87.10,143.04 87.30,145.77 87.50,146.16 87.70,144.14 87.90,145.36 88.10,145.53 88.30,147.58 88.50,147.31 88.70,150.57 88.90,146.36 89.10,148.53 89.30,147.04 89.50,147.32 89.70,145.33 89.90,144.29 90.10,145.90 90.30,148.06 90.50,149.22 90.70,147.86 90.90,147.72 91.10,145.86 91.30,149.20 91.50,148.94 91.70,146.33 91.90,147.02 92.10,145.70 92.30,149.16 92.50,147.68 92.70,146.99 92.90,147.71 93.10,147.77 93.30,146.58 93.50,145.43 93.70,145.39 93.90,144.76 94.10,147.85 94.30,150.32 94.50,144.85 94.70,147.43 94.90,147.82 95.10,145.88 95.30,147.56 95.50,145.75 95.70,148.97 95.90,146.47 96.10,147.46 96.30,148.28 96.50,146.73 96.70,144.84 96.90,146.61 97.10,148.44 97.30,147.26 97.50,147.71 97.70,145.89 97.90,147.61 98.10,148.44 98.30,147.48 98.50,150.11 98.70,147.16 98.90,146.00 99.10,145.21 99.30,149.09 99.50,147.41 99.70,148.92 99.90,148.15 100.10,149.79 100.30,149.28 100.50,146.98 100.70,147.88 100.90,149.01 101.10,145.76 101.30,149.51 101.50,149.17 101.70,148.85 101.90,147.18 102.10,147.88 102.30,145.89 102.50,147.53 102.70,146.62 102.90,147.56 103.10,146.74 103.30,147.82 103.50,149.07 103.70,145.58 103.90,148.70 104.10,144.61 104.30,144.37 104.50,147.22 104.70,147.39 104.90,147.99 105.10,145.06 105.30,147.28 105.50,147.53 105.70,149.10 105.90,147.19 106.10,148.07 106.30,145.96 106.50,147.06 106.70,146.69 106.90,148.29 107.10,145.91 107.30,146.12 107.50,148.09 107.70,149.78 107.90,147.80 108.10,147.68 108.30,146.77 108.50,148.77 108.70,147.99 108.90,149.66 109.10,147.68 109.30,145.88 109.50,146.41 109.70,145.81 109.90,145.44 110.10,148.95 110.30,148.30 110.50,145.43 110.70,149.65 110.90,147.49 111.10,145.80 111.30,147.67 111.50,147.02 111.70,146.03 111.90,144.38 112.10,147.14 112.30,147.49 112.50,143.46 112.70,147.84 112.90,147.92 113.10,146.39 113.30,147.19 113.50,146.63 113.70,145.85 113.90,146.50 114.10,148.89 114.30,144.96 114.50,147.31 114.70,147.22 114.90,145.97 115.10,146.33 115.30,144.97 115.50,145.73 115.70,146.93 115.90,147.36 116.10,145.63 116.30,151.16 116.50,146.07 116.70,147.03 116.90,146.52 117.10,146.27 117.30,148.64 117.50,146.14 117.70,148.66 117.90,148.38 118.10,145.31 118.30,148.21 118.50,145.83 118.70,150.56 118.90,146.18 119.10,145.39 119.30,144.02 119.50,144.87 119.70,145.85 119.90,145.25 120.10,144.92 120.30,145.65 120.50,146.32 120.70,148.62 120.90,144.19 121.10,145.79 121.30,145.21 121.50,144.41 121.70,144.75 121.90,145.23 122.10,147.49 122.30,146.20 122.50,145.70 122.70,147.29 122.90,146.81 123.10,146.09 123.30,146.92 123.50,145.21 123.70,147.23 123.90,146.99 124.10,145.74 124.30,144.59 124.50,148.41 124.70,146.39 124.90,150.51 125.10,145.31 125.30,147.40 125.50,145.57 125.70,146.52 125.90,147.31 126.10,145.00 126.30,145.96 126.50,146.30 126.70,146.22 126.90,146.87 127.10,147.45 127.30,147.16 127.50,146.34 127.70,145.46 127.90,144.34 128.10,144.87 128.30,145.13 128.50,146.80 128.70,145.32 128.90,144.06 129.10,146.65 129.30,144.62 129.50,144.65 129.70,145.38 129.90,146.33 130.10,142.26 130.30,144.04 130.50,145.83 130.70,145.04 130.90,144.31 131.10,144.73 131.30,147.40 131.50,144.79 131.70,146.40 131.90,146.48 132.10,144.70 132.30,145.92 132.50,144.64 132.70,144.38 132.90,143.62 133.10,146.39 133.30,144.57 133.50,144.32 133.70,143.48 133.90,147.55 134.10,146.02 134.30,144.75 134.50,143.93 134.70,142.72 134.90,145.23 135.10,145.18 135.30,142.76 135.50,146.32 135.70,145.73 135.90,143.25 136.10,143.78 136.30,143.91 136.50,144.69 136.70,144.21 136.90,142.07 137.10,146.38 137.30,144.71 137.50,145.98 137.70,145.92 137.90,143.82 138.10,144.53 138.30,145.03 138.50,145.02 138.70,143.65 138.90,142.96 139.10,143.81 139.30,142.58 139.50,142.86 139.70,140.73 139.90,143.63 140.10,142.01 140.30,142.60 140.50,143.24 140.70,143.68 140.90,145.81 141.10,143.38 141.30,141.04 141.50,143.13 141.70,142.03 141.90,143.35 142.10,141.75 142.30,141.63 142.50,141.82 142.70,141.57 142.90,139.81 143.10,141.34 143.30,142.16 143.50,143.77 143.70,141.58 143.90,141.38 144.10,142.61 144.30,142.45 144.50,143.83 144.70,142.30 144.90,141.34 145.10,143.13 145.30,143.29 145.50,140.36 145.70,141.13 145.90,138.43 146.10,140.15 146.30,139.31 146.50,140.10 146.70,139.61 146.90,139.90 147.10,139.84 147.30,140.48 147.50,139.99 147.70,138.81 147.90,137.74 148.10,140.77 148.30,140.81 148.50,138.33 148.70,139.39 148.90,136.71 149.10,136.51 149.30,137.85 149.50,139.68 149.70,136.59 149.90,136.64 150.10,139.16 150.30,135.08 150.50,137.65 150.70,137.25 150.90,136.28 151.10,136.46 151.30,138.72 151.50,134.63 151.70,135.21" fill="none" stroke="#e8321f" stroke-width="0.95" stroke-linejoin="round" />
<polyline points="151.50,134.63 151.70,135.21 151.90,135.02 152.10,134.32 152.30,133.43 152.50,135.94 152.70,134.35 152.90,132.24 153.10,132.91 153.30,133.59 153.50,133.26 153.70,131.34 153.90,132.16 154.10,132.11 154.30,131.85 154.50,131.48 154.70,129.35 154.90,131.84 155.10,130.17 155.30,130.95 155.50,131.29 155.70,128.64 155.90,127.44 156.10,128.46 156.30,127.28 156.50,126.63 156.70,125.77 156.90,127.03 157.10,125.17 157.30,124.07 157.50,124.13 157.70,123.18 157.90,123.39 158.10,122.51 158.30,121.59 158.50,121.89 158.70,120.65 158.90,120.73 159.10,120.36 159.30,118.95 159.50,118.19 159.70,117.92 159.90,117.55 160.10,116.50 160.30,115.88 160.50,115.13 160.70,114.56 160.90,113.97 161.10,112.78 161.30,112.14 161.50,111.59 161.70,110.60 161.90,110.12 162.10,109.49 162.30,108.49 162.50,107.46 162.70,106.54 162.90,106.52 163.10,105.24 163.30,103.48 163.50,102.40 163.70,102.02 163.90,100.35 164.10,98.05 164.30,96.23 164.50,92.67 164.70,90.01 164.90,86.59 165.10,81.72 165.30,78.53 165.50,76.88 165.70,77.00 165.90,78.59 166.10,82.47 166.30,86.88 166.50,89.87 166.70,92.71 166.90,95.80 167.10,97.86 167.30,100.27 167.50,101.41 167.70,102.40 167.90,104.69 168.10,104.74 168.30,106.05 168.50,107.03 168.70,107.93 168.90,108.54 169.10,109.48 169.30,110.03 169.50,110.31 169.70,111.47 169.90,112.21 170.10,112.94 170.30,113.76 170.50,114.20 170.70,115.57 170.90,116.34 171.10,115.68 171.30,117.14 171.50,117.52 171.70,117.40 171.90,119.25 172.10,119.45 172.30,120.16 172.50,120.64 172.70,122.04 172.90,122.72 173.10,122.83 173.30,123.61 173.50,123.75 173.70,124.43 173.90,124.47 174.10,125.42 174.30,125.49 174.50,126.62 174.70,127.38 174.90,127.54 175.10,128.56 175.30,130.01 175.50,127.29 175.70,129.13 175.90,129.14 176.10,129.62 176.30,129.36 176.50,130.76 176.70,130.91 176.90,130.98 177.10,131.63 177.30,131.70 177.50,130.62 177.70,133.72 177.90,132.91 178.10,132.67 178.30,134.04 178.50,133.49 178.70,132.43 178.90,135.44 179.10,133.38 179.30,134.98 179.50,135.55 179.70,136.99" fill="none" stroke="#e8321f" stroke-width="0.75" stroke-linejoin="round" />
<polyline points="179.50,135.55 179.70,136.99 179.90,137.10 180.10,136.34 180.30,135.65 180.50,136.22 180.70,137.98 180.90,138.94 181.10,137.86 181.30,136.80 181.50,138.81 181.70,137.47 181.90,137.62 182.10,137.95 182.30,139.11 182.50,138.93 182.70,139.95 182.90,140.49 183.10,139.73 183.30,136.45 183.50,137.35 183.70,139.78 183.90,139.65 184.10,142.61 184.30,139.98 184.50,139.96 184.70,141.52 184.90,141.83 185.10,140.23 185.30,141.31 185.50,139.25 185.70,139.61 185.90,142.75 186.10,139.17 186.30,142.54 186.50,142.31 186.70,142.55 186.90,142.85 187.10,142.46 187.30,138.77 187.50,140.46 187.70,141.12 187.90,143.34 188.10,140.57 188.30,141.25 188.50,141.82 188.70,144.25 188.90,140.48 189.10,140.68 189.30,143.53 189.50,139.76 189.70,143.27 189.90,142.25 190.10,140.75 190.30,142.44 190.50,141.70 190.70,143.40 190.90,143.75 191.10,145.39 191.30,143.35 191.50,143.57 191.70,142.68 191.90,143.52 192.10,145.08 192.30,140.98 192.50,144.65 192.70,143.04 192.90,143.95 193.10,144.35 193.30,145.14 193.50,144.34 193.70,143.51 193.90,144.54 194.10,144.17 194.30,143.92 194.50,144.54 194.70,145.52 194.90,144.54 195.10,144.61 195.30,142.63 195.50,144.30 195.70,141.92 195.90,145.57 196.10,143.29 196.30,146.46 196.50,148.88 196.70,144.17 196.90,146.62 197.10,145.37 197.30,144.06 197.50,143.70 197.70,145.70 197.90,146.90 198.10,145.48 198.30,142.90 198.50,143.59 198.70,144.76 198.90,147.01 199.10,145.54 199.30,145.64 199.50,146.90 199.70,144.95 199.90,145.14 200.10,145.05 200.30,142.84 200.50,146.02 200.70,145.97 200.90,146.79 201.10,143.79 201.30,144.35 201.50,146.83 201.70,146.00 201.90,147.50 202.10,144.40 202.30,145.92 202.50,144.72 202.70,146.13 202.90,145.04 203.10,146.50 203.30,147.29 203.50,146.74 203.70,143.29 203.90,147.17 204.10,146.50 204.30,144.44 204.50,144.69 204.70,145.96 204.90,146.78 205.10,145.37 205.30,143.75 205.50,146.44 205.70,146.30 205.90,149.51 206.10,144.31 206.30,149.67 206.50,148.60 206.70,146.60 206.90,148.52 207.10,146.36 207.30,147.61 207.50,145.23 207.70,146.39 207.90,144.88 208.10,144.12 208.30,145.96 208.50,145.44 208.70,147.18 208.90,148.18 209.10,146.18 209.30,146.52 209.50,146.72 209.70,144.13 209.90,146.87 210.10,146.53 210.30,146.46 210.50,145.01 210.70,143.79 210.90,146.23 211.10,147.04 211.30,148.49 211.50,148.22 211.70,148.69 211.90,147.18 212.10,148.30 212.30,146.41 212.50,147.59 212.70,148.03 212.90,150.51 213.10,147.10 213.30,144.99 213.50,148.72 213.70,145.70 213.90,146.74 214.10,146.42 214.30,145.58 214.50,148.73 214.70,147.71 214.90,146.04 215.10,147.01 215.30,146.32 215.50,147.80 215.70,146.42 215.90,145.89 216.10,146.08 216.30,146.38 216.50,147.41 216.70,145.73 216.90,146.91 217.10,147.66 217.30,150.33 217.50,148.27 217.70,142.90 217.90,146.38 218.10,146.55 218.30,147.57 218.50,149.33 218.70,148.18 218.90,143.93 219.10,147.60 219.30,147.33 219.50,147.77 219.70,149.11 219.90,145.69 220.10,148.77 220.30,144.92 220.50,147.32 220.70,147.79 220.90,150.47 221.10,146.30 221.30,144.92 221.50,148.27 221.70,146.39 221.90,149.52 222.10,146.35 222.30,146.12 222.50,149.10 222.70,147.49 222.90,148.78 223.10,145.39 223.30,149.71 223.50,146.59 223.70,148.57 223.90,146.02 224.10,145.27 224.30,147.09 224.50,147.71 224.70,149.68 224.90,147.97 225.10,148.49 225.30,148.42 225.50,151.86 225.70,146.37 225.90,149.29 226.10,147.33 226.30,147.91 226.50,146.79 226.70,149.19 226.90,145.82 227.10,145.73 227.30,147.30 227.50,145.98 227.70,148.60 227.90,148.91 228.10,146.58 228.30,148.74 228.50,146.72 228.70,147.60 228.90,147.68 229.10,150.30 229.30,147.68 229.50,146.42 229.70,146.42 229.90,149.39 230.10,145.38 230.30,147.07 230.50,147.20 230.70,144.31 230.90,147.09 231.10,149.16 231.30,148.09 231.50,146.51 231.70,148.75 231.90,148.51 232.10,150.63 232.30,146.77 232.50,147.27 232.70,147.88 232.90,147.64 233.10,147.96 233.30,147.70 233.50,146.88 233.70,145.62 233.90,147.08 234.10,145.93 234.30,146.41 234.50,147.13 234.70,148.60 234.90,149.09 235.10,146.45 235.30,148.34 235.50,149.04 235.70,147.86 235.90,145.63 236.10,144.91 236.30,149.05 236.50,149.22 236.70,148.33 236.90,146.48 237.10,149.99 237.30,149.66 237.50,147.91 237.70,147.66 237.90,145.24 238.10,149.04 238.30,145.74 238.50,148.95 238.70,149.03 238.90,148.15 239.10,150.23 239.30,147.58 239.50,148.86 239.70,149.16 239.90,148.40 240.10,147.47 240.30,149.78 240.50,148.65 240.70,147.80 240.90,147.84 241.10,148.25 241.30,151.27 241.50,148.23 241.70,147.75 241.90,146.59 242.10,146.38 242.30,145.43 242.50,148.42 242.70,148.13 242.90,146.66 243.10,146.02 243.30,147.65 243.50,147.37 243.70,146.24 243.90,148.53 244.10,148.31 244.30,148.04 244.50,149.20 244.70,147.20 244.90,150.02 245.10,146.70 245.30,148.85 245.50,149.02 245.70,147.77 245.90,148.62 246.10,146.34 246.30,146.03 246.50,147.86 246.70,147.12 246.90,148.97 247.10,148.19 247.30,149.01 247.50,148.60 247.70,148.44 247.90,148.29 248.10,147.64 248.30,147.51 248.50,151.01 248.70,145.70 248.90,147.90 249.10,149.57 249.30,148.76 249.50,150.14 249.70,148.94 249.90,146.41 250.10,147.72 250.30,146.21 250.50,149.56 250.70,150.20 250.90,147.57 251.10,148.94 251.30,147.61 251.50,146.17 251.70,147.56 251.90,145.97 252.10,147.39 252.30,148.49 252.50,149.21 252.70,150.01 252.90,147.73 253.10,148.53 253.30,148.79 253.50,148.98 253.70,144.21 253.90,147.11 254.10,149.32 254.30,146.63 254.50,148.55 254.70,149.37 254.90,145.55 255.10,147.94 255.30,148.54 255.50,148.22 255.70,146.07 255.90,148.69 256.10,147.42 256.30,149.36 256.50,148.81 256.70,147.44 256.90,148.46 257.10,147.24 257.30,147.23 257.50,146.00 257.70,147.88 257.90,149.33 258.10,148.37 258.30,148.17 258.50,147.32 258.70,147.46 258.90,149.24 259.10,146.10 259.30,151.08 259.50,148.10 259.70,151.23 259.90,149.84 260.10,147.61 260.30,149.22 260.50,148.55 260.70,148.83 260.90,149.30 261.10,147.42 261.30,147.32 261.50,147.60 261.70,146.27 261.90,147.81 262.10,148.50 262.30,148.53 262.50,148.45 262.70,147.62 262.90,149.28 263.10,145.30 263.30,147.62 263.50,147.71 263.70,149.43 263.90,149.10 264.10,149.29 264.30,148.19 264.50,149.49 264.70,146.76 264.90,148.26 265.10,145.20 265.30,150.55 265.50,150.38 265.70,147.32 265.90,146.97 266.10,145.22 266.30,146.01 266.50,148.33 266.70,147.94 266.90,146.09 267.10,147.46 267.30,147.23 267.50,148.82 267.70,149.16 267.90,147.86 268.10,148.33 268.30,148.16 268.50,145.25 268.70,148.42 268.90,148.09 269.10,149.23 269.30,145.61 269.50,149.25 269.70,147.29 269.90,148.56 270.10,149.88 270.30,146.12 270.50,146.35 270.70,149.58 270.90,146.60 271.10,146.85 271.30,149.04 271.50,147.91 271.70,149.29 271.90,148.62 272.10,148.17 272.30,149.58 272.50,151.27 272.70,148.07 272.90,150.28 273.10,149.80 273.30,148.37 273.50,148.85 273.70,146.90 273.90,147.35 274.10,148.61 274.30,148.15 274.50,150.04 274.70,146.40 274.90,147.81 275.10,147.33 275.30,148.01 275.50,149.86 275.70,146.54 275.90,149.42 276.10,147.41 276.30,147.78 276.50,149.63 276.70,147.84 276.90,149.17 277.10,148.40 277.30,148.00 277.50,147.74 277.70,145.82 277.90,147.20 278.10,148.48 278.30,148.53 278.50,146.17 278.70,149.66 278.90,149.06 279.10,146.44 279.30,146.80 279.50,148.97 279.70,145.80 279.90,147.23 280.10,148.20 280.30,148.09 280.50,148.20 280.70,148.82 280.90,147.16 281.10,147.60 281.30,151.16 281.50,146.32 281.70,147.66 281.90,148.45 282.10,147.39 282.30,150.01 282.50,148.40 282.70,149.36 282.90,144.64 283.10,149.97 283.30,149.91 283.50,147.25 283.70,150.14 283.90,148.68 284.10,149.61 284.30,150.85 284.50,148.46 284.70,146.90 284.90,148.31 285.10,146.54 285.30,147.20 285.50,147.26 285.70,147.33 285.90,149.97 286.10,149.51 286.30,147.08 286.50,149.93 286.70,145.99 286.90,147.43 287.10,148.15 287.30,150.02 287.50,149.37 287.70,149.00 287.90,150.19 288.10,149.37 288.30,150.28 288.50,147.27 288.70,146.00 288.90,147.79 289.10,149.54 289.30,148.74 289.50,149.63 289.70,149.38 289.90,149.11 290.10,149.53 290.30,147.38 290.50,149.92 290.70,146.98 290.90,148.23 291.10,146.41 291.30,149.10 291.50,146.22 291.70,150.36 291.90,146.51 292.10,148.76 292.30,148.20 292.50,147.17 292.70,150.15 292.90,147.80 293.10,150.46 293.30,146.96 293.50,147.28 293.70,145.60 293.90,149.18 294.10,149.69 294.30,148.72 294.50,148.18 294.70,147.12 294.90,151.70 295.10,149.45 295.30,145.83 295.50,147.98 295.70,144.75 295.90,150.63 296.10,151.19 296.30,150.46 296.50,148.34 296.70,147.59 296.90,146.45 297.10,149.17 297.30,147.37 297.50,147.89 297.70,147.53 297.90,147.99 298.10,149.68 298.30,150.80 298.50,148.64 298.70,148.46 298.90,146.87 299.10,146.71 299.30,146.94 299.50,149.67 299.70,148.78 299.90,149.80 300.10,149.03 300.30,147.87 300.50,146.69 300.70,147.92 300.90,146.43 301.10,151.26 301.30,148.82 301.50,147.93 301.70,151.25 301.90,147.91 302.10,149.23 302.30,148.22 302.50,148.95 302.70,147.93 302.90,149.15 303.10,150.46 303.30,146.68 303.50,145.32 303.70,150.36 303.90,148.69 304.10,149.69" fill="none" stroke="#e8321f" stroke-width="0.95" stroke-linejoin="round" />
<polyline points="30.50,180.86 31.50,180.90 32.50,180.95 33.50,181.00 34.50,181.05 35.50,181.09 36.50,181.14 37.50,181.19 38.50,181.23 39.50,181.28 40.50,181.33 41.50,181.37 42.50,181.42 43.50,181.47 44.50,181.51 45.50,181.56 46.50,181.61 47.50,181.65 48.50,181.70 49.50,181.75 50.50,181.79 51.50,181.84 52.50,181.88 53.50,181.93 54.50,181.98 55.50,182.02 56.50,182.07 57.50,182.11 58.50,182.16 59.50,182.20 60.50,182.24 61.50,182.28 62.50,182.32 63.50,182.36 64.50,182.39 65.50,182.43 66.50,182.47 67.50,182.50 68.50,182.54 69.50,182.58 70.50,182.61 71.50,182.65 72.50,182.69 73.50,182.72 74.50,182.76 75.50,182.79 76.50,182.83 77.50,182.86 78.50,182.90 79.50,182.93 80.50,182.96 81.50,183.00 82.50,183.03 83.50,183.06 84.50,183.09 85.50,183.13 86.50,183.16 87.50,183.19 88.50,183.22 89.50,183.25 90.50,183.25 91.50,183.24 92.50,183.22 93.50,183.21 94.50,183.19 95.50,183.17 96.50,183.16 97.50,183.14 98.50,183.12 99.50,183.10 100.50,183.08 101.50,183.05 102.50,183.03 103.50,183.01 104.50,182.98 105.50,182.95 106.50,182.92 107.50,182.89 108.50,182.86 109.50,182.83 110.50,182.79 111.50,182.76 112.50,182.72 113.50,182.68 114.50,182.63 115.50,182.59 116.50,182.54 117.50,182.49 118.50,182.43 119.50,182.37 120.50,182.31 121.50,182.24 122.50,182.17 123.50,182.10 124.50,182.01 125.50,181.93 126.50,181.83 127.50,181.73 128.50,181.62 129.50,181.51 130.50,181.38 131.50,181.25 132.50,181.10 133.50,180.95 134.50,180.78 135.50,180.59 136.50,180.38 137.50,180.15 138.50,179.90 139.50,179.62 140.50,179.31 141.50,178.97 142.50,178.58 143.50,178.15 144.50,177.67 145.50,177.12 146.50,176.50 147.50,175.80 148.50,175.00" fill="none" stroke="#000" stroke-width="1.6" stroke-linejoin="round" stroke-linecap="round"/>
<polyline points="181.30,174.69 182.30,175.58 183.30,176.35 184.30,177.03 185.30,177.63 186.30,178.17 187.30,178.64 188.30,179.07 189.30,179.45 190.30,179.80 191.30,180.11 192.30,180.39 193.30,180.65 194.30,180.88 195.30,181.09 196.30,181.29 197.30,181.47 198.30,181.64 199.30,181.79 200.30,181.94 201.30,182.09 202.30,182.24 203.30,182.37 204.30,182.50 205.30,182.62 206.30,182.74 207.30,182.85 208.30,182.95 209.30,183.05 210.30,183.14 211.30,183.23 212.30,183.32 213.30,183.41 214.30,183.49 215.30,183.56 216.30,183.64 217.30,183.71 218.30,183.78 219.30,183.85 220.30,183.92 221.30,183.98 222.30,184.04 223.30,184.10 224.30,184.16 225.30,184.22 226.30,184.28 227.30,184.33 228.30,184.39 229.30,184.44 230.30,184.49 231.30,184.55 232.30,184.60 233.30,184.64 234.30,184.69 235.30,184.74 236.30,184.79 237.30,184.83 238.30,184.88 239.30,184.93 240.30,184.97 241.30,185.01 242.30,185.06 243.30,185.10 244.30,185.14 245.30,185.18 246.30,185.23 247.30,185.27 248.30,185.31 249.30,185.35 250.30,185.37 251.30,185.37 252.30,185.36 253.30,185.35 254.30,185.34 255.30,185.34 256.30,185.33 257.30,185.32 258.30,185.31 259.30,185.30 260.30,185.29 261.30,185.28 262.30,185.27 263.30,185.26 264.30,185.25 265.30,185.24 266.30,185.23 267.30,185.22 268.30,185.21 269.30,185.20 270.30,185.18 271.30,185.17 272.30,185.16 273.30,185.15 274.30,185.14 275.30,185.13 276.30,185.11 277.30,185.10 278.30,185.09 279.30,185.08 280.30,185.06 281.30,185.02 282.30,184.98 283.30,184.94 284.30,184.90 285.30,184.87 286.30,184.83 287.30,184.79 288.30,184.75 289.30,184.71 290.30,184.67 291.30,184.64 292.30,184.60 293.30,184.56 294.30,184.52 295.30,184.48 296.30,184.44 297.30,184.40 298.30,184.36 299.30,184.33 300.30,184.29 301.30,184.25 302.30,184.21 303.30,184.17" fill="none" stroke="#000" stroke-width="1.6" stroke-linejoin="round" stroke-linecap="round"/>
<polyline points="30.50,183.51 30.70,177.54 30.90,181.42 31.10,180.15 31.30,180.31 31.50,180.62 31.70,178.29 31.90,180.62 32.10,179.81 32.30,185.26 32.50,181.24 32.70,180.50 32.90,180.60 33.10,180.11 33.30,179.62 33.50,180.49 33.70,181.63 33.90,180.71 34.10,182.27 34.30,180.78 34.50,181.08 34.70,183.06 34.90,181.77 35.10,180.42 35.30,180.85 35.50,181.80 35.70,183.62 35.90,180.76 36.10,180.80 36.30,182.43 36.50,179.99 36.70,180.77 36.90,182.31 37.10,181.92 37.30,181.30 37.50,182.06 37.70,177.52 37.90,182.53 38.10,179.97 38.30,179.06 38.50,181.59 38.70,182.15 38.90,180.67 39.10,179.86 39.30,181.31 39.50,181.21 39.70,183.12 39.90,182.27 40.10,181.56 40.30,182.76 40.50,181.06 40.70,180.13 40.90,182.11 41.10,182.11 41.30,181.09 41.50,180.36 41.70,181.68 41.90,178.15 42.10,182.30 42.30,182.05 42.50,179.29 42.70,181.51 42.90,180.19 43.10,182.43 43.30,178.81 43.50,180.28 43.70,182.40 43.90,182.99 44.10,178.69 44.30,180.86 44.50,181.94 44.70,180.73 44.90,183.60 45.10,179.99 45.30,182.01 45.50,180.20 45.70,183.40 45.90,181.55 46.10,181.11 46.30,179.36 46.50,183.79 46.70,182.60 46.90,182.61 47.10,183.11 47.30,182.10 47.50,180.82 47.70,180.62 47.90,180.63 48.10,183.46 48.30,179.79 48.50,180.92 48.70,181.29 48.90,182.01 49.10,182.48 49.30,180.11 49.50,179.50 49.70,181.75 49.90,183.34 50.10,182.76 50.30,182.06 50.50,181.38 50.70,182.18 50.90,181.49 51.10,182.88 51.30,180.80 51.50,182.01 51.70,181.70 51.90,182.56 52.10,182.16 52.30,185.19 52.50,183.83 52.70,183.84 52.90,179.25 53.10,181.47 53.30,181.13 53.50,182.62 53.70,178.98 53.90,183.47 54.10,183.34 54.30,180.27 54.50,180.70 54.70,180.94 54.90,182.05 55.10,182.84 55.30,184.67 55.50,181.76 55.70,183.03 55.90,182.24 56.10,184.34 56.30,183.02 56.50,183.85 56.70,180.67 56.90,181.83 57.10,181.04 57.30,184.06 57.50,182.97 57.70,181.72 57.90,181.54 58.10,182.77 58.30,181.24 58.50,180.95 58.70,182.79 58.90,185.38 59.10,181.86 59.30,181.47 59.50,180.68 59.70,180.47 59.90,182.90 60.10,183.33 60.30,182.25 60.50,182.67 60.70,182.40 60.90,182.44 61.10,180.28 61.30,181.68 61.50,182.43 61.70,181.27 61.90,181.68 62.10,181.24 62.30,181.88 62.50,183.43 62.70,181.80 62.90,182.13 63.10,183.40 63.30,183.19 63.50,184.56 63.70,179.65 63.90,183.48 64.10,181.75 64.30,182.56 64.50,183.48 64.70,183.81 64.90,183.76 65.10,182.62 65.30,184.52 65.50,182.06 65.70,182.25 65.90,183.48 66.10,181.74 66.30,185.27 66.50,183.79 66.70,185.30 66.90,182.45 67.10,181.99 67.30,182.71 67.50,183.46 67.70,181.75 67.90,183.01 68.10,182.50 68.30,184.63 68.50,181.68 68.70,183.91 68.90,181.72 69.10,181.31 69.30,181.65 69.50,181.03 69.70,182.78 69.90,183.93 70.10,182.81 70.30,183.42 70.50,184.74 70.70,182.97 70.90,182.88 71.10,182.28 71.30,180.55 71.50,183.64 71.70,180.37 71.90,183.51 72.10,182.65 72.30,184.14 72.50,182.60 72.70,181.62 72.90,183.17 73.10,181.98 73.30,182.48 73.50,182.78 73.70,182.55 73.90,182.49 74.10,181.66 74.30,182.50 74.50,179.98 74.70,182.56 74.90,181.21 75.10,184.23 75.30,184.44 75.50,180.26 75.70,182.99 75.90,182.64 76.10,181.45 76.30,183.51 76.50,182.23 76.70,180.54 76.90,182.49 77.10,182.66 77.30,182.99 77.50,181.26 77.70,183.67 77.90,183.83 78.10,181.39 78.30,182.03 78.50,182.79 78.70,182.17 78.90,185.18 79.10,183.19 79.30,181.61 79.50,181.91 79.70,182.86 79.90,185.93 80.10,182.72 80.30,183.12 80.50,183.63 80.70,182.92 80.90,185.94 81.10,182.29 81.30,183.96 81.50,183.20 81.70,183.81 81.90,181.48 82.10,185.31 82.30,182.86 82.50,183.07 82.70,181.82 82.90,182.09 83.10,183.78 83.30,184.34 83.50,184.04 83.70,184.64 83.90,184.00 84.10,183.12 84.30,184.17 84.50,183.87 84.70,182.97 84.90,184.05 85.10,184.78 85.30,183.42 85.50,182.66 85.70,184.07 85.90,185.61 86.10,182.87 86.30,183.03 86.50,182.98 86.70,184.75 86.90,180.78 87.10,183.65 87.30,184.73 87.50,182.13 87.70,185.13 87.90,183.90 88.10,182.49 88.30,183.48 88.50,181.22 88.70,182.49 88.90,185.60 89.10,182.07 89.30,185.64 89.50,183.14 89.70,184.55 89.90,183.32 90.10,180.35 90.30,182.51 90.50,183.50 90.70,181.76 90.90,181.50 91.10,183.72 91.30,182.40 91.50,181.04 91.70,182.35 91.90,184.35 92.10,182.62 92.30,184.44 92.50,185.21 92.70,183.26 92.90,181.75 93.10,181.52 93.30,183.18 93.50,184.35 93.70,183.56 93.90,183.91 94.10,182.62 94.30,183.59 94.50,182.58 94.70,182.77 94.90,181.51 95.10,181.14 95.30,182.55 95.50,181.74 95.70,181.92 95.90,184.04 96.10,183.02 96.30,186.95 96.50,184.36 96.70,182.33 96.90,184.16 97.10,183.61 97.30,182.25 97.50,184.57 97.70,182.13 97.90,179.15 98.10,184.16 98.30,182.32 98.50,185.05 98.70,182.27 98.90,181.57 99.10,185.12 99.30,181.70 99.50,183.36 99.70,184.98 99.90,183.24 100.10,182.98 100.30,183.21 100.50,184.17 100.70,182.02 100.90,183.86 101.10,183.81 101.30,186.09 101.50,182.62 101.70,181.86 101.90,184.00 102.10,182.52 102.30,183.41 102.50,183.20 102.70,184.54 102.90,182.17 103.10,182.90 103.30,179.69 103.50,181.85 103.70,185.00 103.90,182.11 104.10,182.08 104.30,181.40 104.50,183.73 104.70,183.21 104.90,181.43 105.10,183.83 105.30,183.30 105.50,183.93 105.70,182.11 105.90,185.20 106.10,183.47 106.30,182.78 106.50,182.25 106.70,182.60 106.90,184.03 107.10,182.56 107.30,184.30 107.50,183.65 107.70,184.64 107.90,183.94 108.10,182.79 108.30,180.39 108.50,183.25 108.70,183.88 108.90,183.06 109.10,183.57 109.30,182.22 109.50,182.33 109.70,181.60 109.90,184.59 110.10,183.01 110.30,182.16 110.50,181.06 110.70,182.59 110.90,184.65 111.10,183.37 111.30,181.82 111.50,184.61 111.70,184.61 111.90,184.02 112.10,183.76 112.30,184.23 112.50,183.42 112.70,183.72 112.90,181.69 113.10,184.64 113.30,182.99 113.50,185.31 113.70,180.01 113.90,183.58 114.10,183.93 114.30,182.20 114.50,183.22 114.70,183.60 114.90,183.37 115.10,181.90 115.30,182.41 115.50,183.91 115.70,184.24 115.90,182.70 116.10,182.66 116.30,182.81 116.50,183.89 116.70,181.16 116.90,180.79 117.10,182.67 117.30,181.06 117.50,181.72 117.70,182.59 117.90,183.09 118.10,181.06 118.30,183.48 118.50,180.12 118.70,183.13 118.90,180.36 119.10,180.74 119.30,183.22 119.50,181.84 119.70,181.33 119.90,181.77 120.10,182.94 120.30,182.25 120.50,182.27 120.70,183.67 120.90,181.35 121.10,181.66 121.30,181.58 121.50,183.76 121.70,183.52 121.90,183.89 122.10,182.16 122.30,181.98 122.50,183.28 122.70,181.64 122.90,183.22 123.10,183.07 123.30,181.20 123.50,181.99 123.70,181.92 123.90,184.32 124.10,185.41 124.30,181.90 124.50,182.03 124.70,179.03 124.90,182.25 125.10,181.95 125.30,180.55 125.50,182.95 125.70,179.87 125.90,181.61 126.10,182.05 126.30,180.23 126.50,182.95 126.70,183.19 126.90,179.99 127.10,179.94 127.30,182.54 127.50,181.69 127.70,180.14 127.90,181.31 128.10,181.53 128.30,181.46 128.50,182.70 128.70,182.10 128.90,183.88 129.10,183.34 129.30,182.41 129.50,182.91 129.70,183.20 129.90,182.37 130.10,179.84 130.30,182.52 130.50,181.47 130.70,183.46 130.90,181.45 131.10,181.99 131.30,181.70 131.50,183.43 131.70,181.45 131.90,180.84 132.10,181.57 132.30,180.56 132.50,181.32 132.70,181.06 132.90,181.40 133.10,183.51 133.30,180.45 133.50,181.00 133.70,180.65 133.90,181.75 134.10,179.31 134.30,179.91 134.50,180.72 134.70,181.45 134.90,180.64 135.10,180.01 135.30,179.50 135.50,181.25 135.70,182.42 135.90,180.93 136.10,180.71 136.30,181.00 136.50,179.15 136.70,179.93 136.90,179.94 137.10,180.63 137.30,180.16 137.50,178.57 137.70,181.57 137.90,182.25 138.10,179.66 138.30,180.47 138.50,180.25 138.70,180.87 138.90,177.87 139.10,181.83 139.30,179.07 139.50,181.26 139.70,179.67 139.90,178.99 140.10,179.26 140.30,180.54 140.50,178.19 140.70,178.76 140.90,178.55 141.10,176.88 141.30,180.73 141.50,179.72 141.70,178.87 141.90,180.33 142.10,177.50 142.30,178.57 142.50,180.82 142.70,179.77 142.90,175.52 143.10,174.00 143.30,176.89 143.50,179.53 143.70,177.44 143.90,177.68 144.10,178.66 144.30,176.62 144.50,177.94 144.70,178.59 144.90,178.06 145.10,177.86 145.30,176.45 145.50,177.79 145.70,176.45 145.90,178.58 146.10,180.08 146.30,175.68 146.50,173.75 146.70,175.84 146.90,176.70 147.10,177.38 147.30,177.26 147.50,174.86 147.70,174.70 147.90,176.98 148.10,174.06 148.30,176.42 148.50,174.74 148.70,175.69 148.90,175.43 149.10,175.32 149.30,175.17 149.50,173.02 149.70,174.20 149.90,173.70 150.10,173.79 150.30,174.52 150.50,172.76 150.70,172.10 150.90,171.86 151.10,172.03 151.30,172.80" fill="none" stroke="#000" stroke-width="0.85" stroke-linejoin="round" />
<polyline points="151.10,172.03 151.30,172.80 151.50,171.06 151.70,172.64 151.90,171.56 152.10,170.81 152.30,169.54 152.50,170.65 152.70,170.73 152.90,168.31 153.10,170.49 153.30,170.52 153.50,169.09 153.70,168.86 153.90,170.00 154.10,168.69 154.30,166.67 154.50,166.94 154.70,166.43 154.90,166.02 155.10,164.03 155.30,165.79 155.50,164.37 155.70,164.45 155.90,163.77 156.10,163.92 156.30,162.67 156.50,161.84 156.70,162.12 156.90,162.08 157.10,160.50 157.30,160.88 157.50,159.66 157.70,158.62 157.90,159.09 158.10,157.23 158.30,157.51 158.50,156.10 158.70,155.88 158.90,154.41 159.10,153.90 159.30,154.03 159.50,152.92 159.70,152.13 159.90,151.20 160.10,150.79 160.30,149.35 160.50,148.70 160.70,148.28 160.90,147.28 161.10,146.55 161.30,145.98 161.50,145.18 161.70,144.37 161.90,144.20 162.10,143.20 162.30,142.48 162.50,141.27 162.70,140.29 162.90,139.14 163.10,138.62 163.30,137.11 163.50,136.56 163.70,135.82 163.90,134.70 164.10,132.80 164.30,130.09 164.50,127.89 164.70,124.35 164.90,121.71 165.10,119.26 165.30,119.58 165.50,122.29 165.70,124.92 165.90,128.50 166.10,130.44 166.30,132.39 166.50,134.63 166.70,136.15 166.90,136.59 167.10,137.84 167.30,138.29 167.50,139.58 167.70,140.78 167.90,141.28 168.10,141.93 168.30,142.45 168.50,143.82 168.70,144.75 168.90,145.47 169.10,146.14 169.30,146.42 169.50,148.19 169.70,148.37 169.90,149.12 170.10,150.17 170.30,149.99 170.50,151.42 170.70,152.14 170.90,153.05 171.10,154.10 171.30,154.53 171.50,154.41 171.70,155.63 171.90,156.51 172.10,157.16 172.30,157.23 172.50,157.69 172.70,159.25 172.90,159.78 173.10,160.21 173.30,159.98 173.50,162.23 173.70,160.46 173.90,162.27 174.10,164.08 174.30,163.41 174.50,164.12 174.70,163.80 174.90,165.73 175.10,164.64 175.30,166.00 175.50,166.36 175.70,166.04 175.90,167.68 176.10,166.58 176.30,167.43 176.50,168.25 176.70,168.34 176.90,169.32 177.10,170.00 177.30,169.45 177.50,169.58 177.70,169.91 177.90,170.33 178.10,171.55 178.30,171.03 178.50,171.81 178.70,171.68 178.90,171.31 179.10,173.01 179.30,171.63" fill="none" stroke="#000" stroke-width="0.75" stroke-linejoin="round" />
<polyline points="179.10,173.01 179.30,171.63 179.50,172.78 179.70,174.34 179.90,172.26 180.10,173.42 180.30,172.21 180.50,173.42 180.70,172.68 180.90,173.96 181.10,173.98 181.30,174.83 181.50,176.48 181.70,175.35 181.90,175.92 182.10,175.36 182.30,175.32 182.50,174.84 182.70,173.94 182.90,176.13 183.10,178.01 183.30,176.89 183.50,175.89 183.70,178.53 183.90,176.27 184.10,176.17 184.30,175.59 184.50,176.00 184.70,176.98 184.90,179.86 185.10,177.26 185.30,176.34 185.50,176.98 185.70,177.57 185.90,175.75 186.10,178.23 186.30,179.08 186.50,178.68 186.70,179.15 186.90,176.78 187.10,176.35 187.30,180.32 187.50,180.16 187.70,176.82 187.90,179.17 188.10,179.02 188.30,179.78 188.50,179.42 188.70,178.58 188.90,179.56 189.10,179.58 189.30,179.39 189.50,177.12 189.70,175.70 189.90,178.64 190.10,177.61 190.30,180.13 190.50,180.79 190.70,180.27 190.90,179.51 191.10,180.14 191.30,181.63 191.50,179.22 191.70,181.42 191.90,181.20 192.10,180.68 192.30,182.28 192.50,179.51 192.70,181.72 192.90,179.34 193.10,179.60 193.30,179.27 193.50,181.27 193.70,179.52 193.90,180.86 194.10,179.36 194.30,182.27 194.50,183.31 194.70,181.26 194.90,183.15 195.10,181.78 195.30,183.91 195.50,181.26 195.70,179.13 195.90,183.15 196.10,181.09 196.30,179.94 196.50,180.47 196.70,179.25 196.90,181.18 197.10,180.04 197.30,183.40 197.50,182.37 197.70,179.38 197.90,179.61 198.10,180.87 198.30,179.13 198.50,181.53 198.70,181.64 198.90,180.73 199.10,181.05 199.30,182.44 199.50,183.67 199.70,183.79 199.90,181.92 200.10,183.02 200.30,180.98 200.50,182.51 200.70,180.75 200.90,182.98 201.10,180.45 201.30,180.84 201.50,182.11 201.70,182.87 201.90,180.31 202.10,181.51 202.30,182.41 202.50,182.56 202.70,181.20 202.90,182.44 203.10,182.00 203.30,184.20 203.50,183.12 203.70,180.70 203.90,179.59 204.10,182.60 204.30,184.04 204.50,182.75 204.70,183.70 204.90,181.94 205.10,180.82 205.30,183.59 205.50,182.77 205.70,183.56 205.90,180.89 206.10,182.95 206.30,181.92 206.50,183.81 206.70,182.03 206.90,182.01 207.10,182.06 207.30,184.49 207.50,182.90 207.70,181.90 207.90,181.58 208.10,181.57 208.30,184.85 208.50,180.61 208.70,181.88 208.90,183.84 209.10,184.56 209.30,182.86 209.50,184.09 209.70,184.07 209.90,184.39 210.10,183.19 210.30,185.30 210.50,183.44 210.70,185.19 210.90,181.79 211.10,184.47 211.30,181.63 211.50,181.33 211.70,183.95 211.90,182.25 212.10,183.92 212.30,181.97 212.50,185.47 212.70,183.41 212.90,181.95 213.10,183.67 213.30,184.61 213.50,182.48 213.70,184.17 213.90,186.18 214.10,184.66 214.30,183.54 214.50,182.83 214.70,184.34 214.90,181.63 215.10,179.67 215.30,182.77 215.50,182.24 215.70,185.93 215.90,183.86 216.10,182.42 216.30,182.20 216.50,184.38 216.70,182.67 216.90,183.00 217.10,183.66 217.30,183.91 217.50,183.94 217.70,183.97 217.90,185.53 218.10,186.07 218.30,181.72 218.50,187.24 218.70,184.07 218.90,185.53 219.10,182.97 219.30,184.37 219.50,184.24 219.70,184.12 219.90,185.09 220.10,184.82 220.30,182.71 220.50,183.87 220.70,184.99 220.90,184.95 221.10,183.63 221.30,183.71 221.50,183.89 221.70,182.67 221.90,182.44 222.10,186.17 222.30,183.63 222.50,184.28 222.70,183.19 222.90,185.87 223.10,186.47 223.30,183.92 223.50,184.88 223.70,183.25 223.90,186.53 224.10,185.45 224.30,183.17 224.50,185.90 224.70,184.75 224.90,184.83 225.10,184.77 225.30,183.45 225.50,183.63 225.70,185.15 225.90,184.29 226.10,183.13 226.30,187.01 226.50,184.11 226.70,183.67 226.90,183.50 227.10,185.31 227.30,185.69 227.50,184.76 227.70,185.58 227.90,182.51 228.10,183.98 228.30,183.87 228.50,184.49 228.70,185.13 228.90,181.86 229.10,188.58 229.30,183.40 229.50,184.98 229.70,185.62 229.90,185.66 230.10,184.88 230.30,180.79 230.50,183.17 230.70,185.57 230.90,183.40 231.10,183.23 231.30,181.55 231.50,186.20 231.70,185.29 231.90,183.47 232.10,184.47 232.30,184.52 232.50,183.20 232.70,184.30 232.90,185.00 233.10,185.39 233.30,186.33 233.50,184.73 233.70,184.10 233.90,185.23 234.10,183.90 234.30,183.10 234.50,186.22 234.70,184.24 234.90,184.91 235.10,185.60 235.30,183.33 235.50,185.61 235.70,185.37 235.90,184.67 236.10,185.32 236.30,183.83 236.50,181.95 236.70,184.46 236.90,183.66 237.10,185.98 237.30,185.20 237.50,184.18 237.70,184.94 237.90,186.64 238.10,186.37 238.30,185.38 238.50,185.47 238.70,184.56 238.90,184.76 239.10,185.70 239.30,184.79 239.50,185.34 239.70,183.51 239.90,182.80 240.10,182.77 240.30,184.42 240.50,186.73 240.70,186.55 240.90,183.72 241.10,183.00 241.30,186.07 241.50,185.64 241.70,183.27 241.90,186.44 242.10,185.30 242.30,186.80 242.50,185.53 242.70,186.25 242.90,185.52 243.10,183.87 243.30,184.82 243.50,184.25 243.70,186.22 243.90,183.85 244.10,183.16 244.30,186.05 244.50,186.66 244.70,187.06 244.90,186.61 245.10,183.23 245.30,184.30 245.50,184.50 245.70,185.19 245.90,182.42 246.10,185.22 246.30,185.60 246.50,184.01 246.70,185.41 246.90,186.81 247.10,185.33 247.30,186.66 247.50,186.61 247.70,185.83 247.90,185.80 248.10,184.83 248.30,186.94 248.50,184.72 248.70,184.43 248.90,186.26 249.10,184.41 249.30,185.92 249.50,186.75 249.70,185.48 249.90,185.52 250.10,186.59 250.30,186.37 250.50,183.39 250.70,183.68 250.90,187.12 251.10,185.89 251.30,182.68 251.50,183.63 251.70,185.42 251.90,184.11 252.10,185.99 252.30,185.48 252.50,186.02 252.70,183.86 252.90,186.19 253.10,187.93 253.30,184.34 253.50,187.08 253.70,186.65 253.90,186.21 254.10,185.29 254.30,183.86 254.50,184.23 254.70,186.36 254.90,186.64 255.10,186.96 255.30,186.61 255.50,186.54 255.70,184.80 255.90,183.79 256.10,185.62 256.30,186.01 256.50,185.47 256.70,183.38 256.90,184.68 257.10,183.43 257.30,185.54 257.50,183.98 257.70,185.13 257.90,185.76 258.10,185.52 258.30,187.12 258.50,183.90 258.70,182.50 258.90,186.57 259.10,187.16 259.30,187.20 259.50,185.70 259.70,186.03 259.90,185.49 260.10,183.65 260.30,184.59 260.50,185.97 260.70,184.57 260.90,187.80 261.10,183.32 261.30,184.76 261.50,186.76 261.70,184.53 261.90,183.84 262.10,183.55 262.30,184.37 262.50,187.27 262.70,185.84 262.90,185.98 263.10,184.63 263.30,186.40 263.50,185.44 263.70,184.10 263.90,184.71 264.10,185.56 264.30,186.81 264.50,185.22 264.70,185.94 264.90,187.91 265.10,184.25 265.30,183.67 265.50,186.56 265.70,185.85 265.90,185.15 266.10,185.62 266.30,184.85 266.50,185.94 266.70,184.83 266.90,186.31 267.10,183.74 267.30,184.20 267.50,185.41 267.70,184.65 267.90,186.16 268.10,185.20 268.30,184.55 268.50,185.52 268.70,184.56 268.90,183.22 269.10,183.77 269.30,184.20 269.50,184.63 269.70,185.37 269.90,186.42 270.10,185.96 270.30,187.55 270.50,186.89 270.70,184.99 270.90,187.38 271.10,186.77 271.30,184.64 271.50,185.63 271.70,186.65 271.90,185.54 272.10,186.54 272.30,185.73 272.50,186.13 272.70,184.80 272.90,185.71 273.10,184.74 273.30,186.09 273.50,183.01 273.70,185.64 273.90,186.83 274.10,185.96 274.30,185.17 274.50,185.90 274.70,184.10 274.90,184.11 275.10,184.72 275.30,184.99 275.50,186.44 275.70,184.02 275.90,186.48 276.10,183.13 276.30,184.15 276.50,185.12 276.70,186.67 276.90,184.37 277.10,182.38 277.30,185.71 277.50,185.12 277.70,183.75 277.90,183.80 278.10,184.25 278.30,185.28 278.50,186.01 278.70,183.22 278.90,188.12 279.10,185.09 279.30,184.65 279.50,186.01 279.70,185.27 279.90,188.17 280.10,186.55 280.30,184.64 280.50,184.60 280.70,184.45 280.90,184.65 281.10,185.96 281.30,184.24 281.50,187.17 281.70,184.95 281.90,184.86 282.10,186.28 282.30,182.46 282.50,183.81 282.70,185.80 282.90,185.03 283.10,184.99 283.30,185.51 283.50,184.21 283.70,184.76 283.90,183.21 284.10,182.53 284.30,186.60 284.50,183.74 284.70,184.01 284.90,186.75 285.10,186.31 285.30,184.24 285.50,184.22 285.70,184.80 285.90,183.65 286.10,185.60 286.30,185.07 286.50,185.04 286.70,185.84 286.90,185.79 287.10,187.24 287.30,186.81 287.50,182.61 287.70,185.99 287.90,183.36 288.10,182.95 288.30,185.73 288.50,183.88 288.70,184.38 288.90,186.17 289.10,183.91 289.30,183.60 289.50,185.18 289.70,186.34 289.90,185.43 290.10,182.71 290.30,183.88 290.50,184.52 290.70,187.22 290.90,185.86 291.10,185.80 291.30,186.25 291.50,184.28 291.70,185.29 291.90,185.30 292.10,183.39 292.30,184.63 292.50,185.37 292.70,183.23 292.90,185.68 293.10,185.60 293.30,185.95 293.50,183.59 293.70,184.73 293.90,186.47 294.10,185.61 294.30,183.55 294.50,184.85 294.70,186.40 294.90,184.45 295.10,185.03 295.30,187.87 295.50,184.47 295.70,184.37 295.90,183.20 296.10,183.64 296.30,186.42 296.50,184.30 296.70,182.93 296.90,183.25 297.10,184.46 297.30,185.44 297.50,183.47 297.70,185.36 297.90,183.78 298.10,184.87 298.30,185.08 298.50,185.18 298.70,183.82 298.90,184.15 299.10,185.02 299.30,182.67 299.50,184.57 299.70,185.00 299.90,185.68 300.10,184.26 300.30,184.06 300.50,184.48 300.70,183.33 300.90,184.00 301.10,184.80 301.30,184.62 301.50,182.89 301.70,183.81 301.90,181.48 302.10,185.26 302.30,183.52 302.50,184.51 302.70,182.76 302.90,184.07 303.10,184.75 303.30,185.43 303.50,182.38 303.70,185.23 303.90,183.92 304.10,183.12" fill="none" stroke="#000" stroke-width="0.85" stroke-linejoin="round" />
<polyline points="30.50,240.59 30.70,240.59 30.90,240.59 31.10,240.59 31.30,240.59 31.50,240.59 31.70,240.59 31.90,240.59 32.10,240.59 32.30,240.59 32.50,240.59 32.70,240.59 32.90,240.59 33.10,240.59 33.30,240.59 33.50,240.59 33.70,240.59 33.90,240.59 34.10,240.59 34.30,240.59 34.50,240.59 34.70,240.59 34.90,240.59 35.10,240.59 35.30,240.59 35.50,240.59 35.70,240.59 35.90,240.59 36.10,240.59 36.30,240.59 36.50,240.59 36.70,240.59 36.90,240.59 37.10,240.59 37.30,240.59 37.50,240.59 37.70,240.59 37.90,240.59 38.10,240.59 38.30,240.59 38.50,240.59 38.70,240.59 38.90,240.59 39.10,240.59 39.30,240.59 39.50,240.59 39.70,240.59 39.90,240.59 40.10,240.59 40.30,240.59 40.50,240.59 40.70,240.59 40.90,240.59 41.10,240.59 41.30,240.59 41.50,240.59 41.70,240.59 41.90,240.59 42.10,240.59 42.30,240.59 42.50,240.59 42.70,240.59 42.90,240.59 43.10,240.59 43.30,240.59 43.50,240.59 43.70,240.59 43.90,240.59 44.10,240.59 44.30,240.59 44.50,240.59 44.70,240.59 44.90,240.59 45.10,240.59 45.30,240.59 45.50,240.58 45.70,240.58 45.90,240.58 46.10,240.58 46.30,240.58 46.50,240.58 46.70,240.58 46.90,240.58 47.10,240.58 47.30,240.58 47.50,240.58 47.70,240.58 47.90,240.58 48.10,240.58 48.30,240.58 48.50,240.58 48.70,240.58 48.90,240.58 49.10,240.58 49.30,240.58 49.50,240.58 49.70,240.58 49.90,240.58 50.10,240.58 50.30,240.57 50.50,240.57 50.70,240.57 50.90,240.57 51.10,240.57 51.30,240.57 51.50,240.57 51.70,240.57 51.90,240.57 52.10,240.57 52.30,240.57 52.50,240.57 52.70,240.56 52.90,240.56 53.10,240.56 53.30,240.56 53.50,240.56 53.70,240.56 53.90,240.56 54.10,240.56 54.30,240.55 54.50,240.55 54.70,240.55 54.90,240.55 55.10,240.55 55.30,240.55 55.50,240.54 55.70,240.54 55.90,240.54 56.10,240.54 56.30,240.53 56.50,240.53 56.70,240.53 56.90,240.52 57.10,240.52 57.30,240.52 57.50,240.51 57.70,240.51 57.90,240.50 58.10,240.50 58.30,240.49 58.50,240.49 58.70,240.48 58.90,240.47 59.10,240.47 59.30,240.46 59.50,240.45 59.70,240.44 59.90,240.43 60.10,240.42 60.30,240.40 60.50,240.39 60.70,240.37 60.90,240.35 61.10,240.33 61.30,240.30 61.50,240.28 61.70,240.24 61.90,240.21 62.10,240.16 62.30,240.11 62.50,240.05 62.70,239.98 62.90,239.90 63.10,239.79 63.30,239.67 63.50,239.51 63.70,239.32 63.90,239.07 64.10,238.74 64.30,238.33 64.50,237.79 64.70,237.10 64.90,236.24 65.10,235.25 65.30,234.30 65.50,233.68 65.70,233.68 65.90,234.30 66.10,235.25 66.30,236.24 66.50,237.10 66.70,237.79 66.90,238.33 67.10,238.74 67.30,239.07 67.50,239.31 67.70,239.51 67.90,239.67 68.10,239.79 68.30,239.90 68.50,239.98 68.70,240.05 68.90,240.11 69.10,240.16 69.30,240.21 69.50,240.24 69.70,240.28 69.90,240.30 70.10,240.33 70.30,240.35 70.50,240.37 70.70,240.39 70.90,240.40 71.10,240.41 71.30,240.43 71.50,240.44 71.70,240.45 71.90,240.46 72.10,240.47 72.30,240.47 72.50,240.48 72.70,240.49 72.90,240.49 73.10,240.50 73.30,240.50 73.50,240.51 73.70,240.51 73.90,240.52 74.10,240.52 74.30,240.52 74.50,240.53 74.70,240.53 74.90,240.53 75.10,240.53 75.30,240.54 75.50,240.54 75.70,240.54 75.90,240.54 76.10,240.55 76.30,240.55 76.50,240.55 76.70,240.55 76.90,240.55 77.10,240.55 77.30,240.55 77.50,240.56 77.70,240.56 77.90,240.56 78.10,240.56 78.30,240.56 78.50,240.56 78.70,240.56 78.90,240.56 79.10,240.56 79.30,240.57 79.50,240.57 79.70,240.57 79.90,240.57 80.10,240.57 80.30,240.57 80.50,240.57 80.70,240.57 80.90,240.57 81.10,240.57 81.30,240.57 81.50,240.57 81.70,240.57 81.90,240.57 82.10,240.57 82.30,240.57 82.50,240.58 82.70,240.58 82.90,240.58 83.10,240.58 83.30,240.58 83.50,240.58 83.70,240.58 83.90,240.58 84.10,240.58 84.30,240.58 84.50,240.58 84.70,240.58 84.90,240.58 85.10,240.58 85.30,240.58 85.50,240.58 85.70,240.58 85.90,240.58 86.10,240.58 86.30,240.58 86.50,240.58 86.70,240.58 86.90,240.58 87.10,240.58 87.30,240.58 87.50,240.58 87.70,240.58 87.90,240.58 88.10,240.58 88.30,240.58 88.50,240.58 88.70,240.58 88.90,240.58 89.10,240.58 89.30,240.58 89.50,240.58 89.70,240.58 89.90,240.58 90.10,240.58 90.30,240.58 90.50,240.58 90.70,240.58 90.90,240.58 91.10,240.58 91.30,240.58 91.50,240.58 91.70,240.58 91.90,240.58 92.10,240.58 92.30,240.58 92.50,240.58 92.70,240.58 92.90,240.58 93.10,240.58 93.30,240.58 93.50,240.58 93.70,240.58 93.90,240.58 94.10,240.58 94.30,240.58 94.50,240.58 94.70,240.58 94.90,240.58 95.10,240.58 95.30,240.58 95.50,240.58 95.70,240.58 95.90,240.58 96.10,240.58 96.30,240.58 96.50,240.58 96.70,240.58 96.90,240.58 97.10,240.58 97.30,240.58 97.50,240.58 97.70,240.58 97.90,240.58 98.10,240.58 98.30,240.58 98.50,240.58 98.70,240.58 98.90,240.58 99.10,240.58 99.30,240.58 99.50,240.58 99.70,240.58 99.90,240.58 100.10,240.57 100.30,240.57 100.50,240.57 100.70,240.57 100.90,240.57 101.10,240.57 101.30,240.57 101.50,240.57 101.70,240.57 101.90,240.57 102.10,240.57 102.30,240.57 102.50,240.57 102.70,240.57 102.90,240.57 103.10,240.57 103.30,240.56 103.50,240.56 103.70,240.56 103.90,240.56 104.10,240.56 104.30,240.56 104.50,240.56 104.70,240.56 104.90,240.56 105.10,240.56 105.30,240.55 105.50,240.55 105.70,240.55 105.90,240.55 106.10,240.55 106.30,240.55 106.50,240.54 106.70,240.54 106.90,240.54 107.10,240.54 107.30,240.53 107.50,240.53 107.70,240.53 107.90,240.53 108.10,240.52 108.30,240.52 108.50,240.52 108.70,240.51 108.90,240.51 109.10,240.50 109.30,240.50 109.50,240.49 109.70,240.49 109.90,240.48 110.10,240.47 110.30,240.46 110.50,240.45 110.70,240.44 110.90,240.43 111.10,240.42 111.30,240.41 111.50,240.39 111.70,240.38 111.90,240.36 112.10,240.34 112.30,240.31 112.50,240.29 112.70,240.25 112.90,240.22 113.10,240.17 113.30,240.12 113.50,240.06 113.70,239.99 113.90,239.90 114.10,239.79 114.30,239.66 114.50,239.49 114.70,239.27 114.90,239.00 115.10,238.64 115.30,238.18 115.50,237.58 115.70,236.85 115.90,236.00 116.10,235.18 116.30,234.66 116.50,234.66 116.70,235.18 116.90,236.00 117.10,236.84 117.30,237.58 117.50,238.17 117.70,238.63 117.90,238.99 118.10,239.26 118.30,239.48 118.50,239.64 118.70,239.78 118.90,239.88 119.10,239.97 119.30,240.04 119.50,240.10 119.70,240.15 119.90,240.19 120.10,240.23 120.30,240.25 120.50,240.28 120.70,240.30 120.90,240.32 121.10,240.33 121.30,240.35 121.50,240.36 121.70,240.36 121.90,240.37 122.10,240.38 122.30,240.38 122.50,240.38 122.70,240.38 122.90,240.37 123.10,240.37 123.30,240.36 123.50,240.35 123.70,240.33 123.90,240.31 124.10,240.29 124.30,240.26 124.50,240.21 124.70,240.16 124.90,240.09 125.10,240.01 125.30,239.89 125.50,239.74 125.70,239.54 125.90,239.30 126.10,239.02 126.30,238.75 126.50,238.58 126.70,238.58 126.90,238.75 127.10,239.03 127.30,239.31 127.50,239.56 127.70,239.76 127.90,239.91 128.10,240.03 128.30,240.13 128.50,240.20 128.70,240.26 128.90,240.30 129.10,240.34 129.30,240.37 129.50,240.39 129.70,240.42 129.90,240.43 130.10,240.45 130.30,240.46 130.50,240.47 130.70,240.48 130.90,240.49 131.10,240.50 131.30,240.51 131.50,240.51 131.70,240.52 131.90,240.52 132.10,240.53 132.30,240.53 132.50,240.53 132.70,240.54 132.90,240.54 133.10,240.54 133.30,240.55 133.50,240.55 133.70,240.55 133.90,240.55 134.10,240.55 134.30,240.56 134.50,240.56 134.70,240.56 134.90,240.56 135.10,240.56 135.30,240.56 135.50,240.57 135.70,240.57 135.90,240.57 136.10,240.57 136.30,240.57 136.50,240.57 136.70,240.57 136.90,240.57 137.10,240.57 137.30,240.57 137.50,240.57 137.70,240.58 137.90,240.58 138.10,240.58 138.30,240.58 138.50,240.58 138.70,240.58 138.90,240.58 139.10,240.58 139.30,240.58 139.50,240.58 139.70,240.58 139.90,240.58 140.10,240.58 140.30,240.58 140.50,240.58 140.70,240.58 140.90,240.58 141.10,240.58 141.30,240.58 141.50,240.58 141.70,240.58 141.90,240.58 142.10,240.58 142.30,240.59 142.50,240.59 142.70,240.59 142.90,240.59 143.10,240.59 143.30,240.59 143.50,240.59 143.70,240.59 143.90,240.59 144.10,240.59 144.30,240.59 144.50,240.59 144.70,240.59 144.90,240.59 145.10,240.59 145.30,240.59 145.50,240.59 145.70,240.59 145.90,240.59 146.10,240.59 146.30,240.59 146.50,240.59 146.70,240.59 146.90,240.59 147.10,240.59 147.30,240.59 147.50,240.59 147.70,240.59 147.90,240.59 148.10,240.59 148.30,240.59 148.50,240.59 148.70,240.59 148.90,240.59 149.10,240.59 149.30,240.59 149.50,240.59 149.70,240.59 149.90,240.59 150.10,240.59 150.30,240.59 150.50,240.59 150.70,240.59 150.90,240.59 151.10,240.59 151.30,240.59 151.50,240.59 151.70,240.59 151.90,240.59 152.10,240.59 152.30,240.59 152.50,240.59 152.70,240.59 152.90,240.59 153.10,240.59 153.30,240.59 153.50,240.59 153.70,240.59 153.90,240.59 154.10,240.59 154.30,240.59 154.50,240.59 154.70,240.59 154.90,240.59 155.10,240.59 155.30,240.59 155.50,240.59 155.70,240.59 155.90,240.59 156.10,240.59 156.30,240.59 156.50,240.59 156.70,240.59 156.90,240.59 157.10,240.59 157.30,240.59 157.50,240.59 157.70,240.59 157.90,240.59 158.10,240.59 158.30,240.59 158.50,240.60 158.70,240.60 158.90,240.60 159.10,240.60 159.30,240.60 159.50,240.60 159.70,240.60 159.90,240.60 160.10,240.60 160.30,240.60 160.50,240.60 160.70,240.60 160.90,240.60 161.10,240.60 161.30,240.60 161.50,240.60 161.70,240.60 161.90,240.60 162.10,240.60 162.30,240.60 162.50,240.60 162.70,240.60 162.90,240.60 163.10,240.60 163.30,240.60 163.50,240.60 163.70,240.60 163.90,240.60 164.10,240.60 164.30,240.60 164.50,240.60 164.70,240.60 164.90,240.60 165.10,240.60 165.30,240.60 165.50,240.60 165.70,240.60 165.90,240.60 166.10,240.60 166.30,240.60 166.50,240.60 166.70,240.60 166.90,240.60 167.10,240.60 167.30,240.60 167.50,240.60 167.70,240.60 167.90,240.60 168.10,240.60 168.30,240.60 168.50,240.60 168.70,240.60 168.90,240.60 169.10,240.60 169.30,240.60 169.50,240.60 169.70,240.60 169.90,240.60 170.10,240.60 170.30,240.60 170.50,240.60 170.70,240.60 170.90,240.60 171.10,240.60 171.30,240.60 171.50,240.60 171.70,240.60 171.90,240.60 172.10,240.60 172.30,240.60 172.50,240.60 172.70,240.60 172.90,240.60 173.10,240.60 173.30,240.60 173.50,240.60 173.70,240.60 173.90,240.60 174.10,240.60 174.30,240.60 174.50,240.60 174.70,240.60 174.90,240.60 175.10,240.60 175.30,240.60 175.50,240.60 175.70,240.60 175.90,240.60 176.10,240.60 176.30,240.60 176.50,240.60 176.70,240.60 176.90,240.60 177.10,240.60 177.30,240.60 177.50,240.60 177.70,240.60 177.90,240.60 178.10,240.60 178.30,240.60 178.50,240.60 178.70,240.60 178.90,240.60 179.10,240.60 179.30,240.60 179.50,240.60 179.70,240.60 179.90,240.60 180.10,240.60 180.30,240.60 180.50,240.60 180.70,240.60 180.90,240.60 181.10,240.60 181.30,240.60 181.50,240.60 181.70,240.60 181.90,240.60 182.10,240.60 182.30,240.60 182.50,240.60 182.70,240.60 182.90,240.60 183.10,240.60 183.30,240.60 183.50,240.60 183.70,240.60 183.90,240.60 184.10,240.60 184.30,240.60 184.50,240.60 184.70,240.60 184.90,240.60 185.10,240.60 185.30,240.60 185.50,240.60 185.70,240.60 185.90,240.60 186.10,240.60 186.30,240.60 186.50,240.60 186.70,240.60 186.90,240.60 187.10,240.60 187.30,240.60 187.50,240.60 187.70,240.60 187.90,240.60 188.10,240.60 188.30,240.60 188.50,240.60 188.70,240.60 188.90,240.60 189.10,240.60 189.30,240.60 189.50,240.60 189.70,240.60 189.90,240.60 190.10,240.60 190.30,240.60 190.50,240.60 190.70,240.60 190.90,240.60 191.10,240.60 191.30,240.60 191.50,240.60 191.70,240.60 191.90,240.60 192.10,240.60 192.30,240.60 192.50,240.60 192.70,240.60 192.90,240.60 193.10,240.60 193.30,240.60 193.50,240.60 193.70,240.60 193.90,240.60 194.10,240.60 194.30,240.60 194.50,240.60 194.70,240.60 194.90,240.60 195.10,240.60 195.30,240.60 195.50,240.60 195.70,240.60 195.90,240.60 196.10,240.60 196.30,240.60 196.50,240.60 196.70,240.60 196.90,240.60 197.10,240.60 197.30,240.60 197.50,240.60 197.70,240.60 197.90,240.60 198.10,240.60 198.30,240.60 198.50,240.60 198.70,240.60 198.90,240.60 199.10,240.60 199.30,240.60 199.50,240.60 199.70,240.60 199.90,240.60 200.10,240.60 200.30,240.60 200.50,240.60 200.70,240.60 200.90,240.60 201.10,240.60 201.30,240.60 201.50,240.60 201.70,240.60 201.90,240.60 202.10,240.60 202.30,240.60 202.50,240.60 202.70,240.60 202.90,240.60 203.10,240.60 203.30,240.60 203.50,240.60 203.70,240.60 203.90,240.60 204.10,240.60 204.30,240.60 204.50,240.60 204.70,240.60 204.90,240.60 205.10,240.60 205.30,240.60 205.50,240.60 205.70,240.60 205.90,240.60 206.10,240.60 206.30,240.60 206.50,240.60 206.70,240.60 206.90,240.60 207.10,240.60 207.30,240.60 207.50,240.60 207.70,240.60 207.90,240.60 208.10,240.60 208.30,240.60 208.50,240.60 208.70,240.60 208.90,240.60 209.10,240.60 209.30,240.60 209.50,240.60 209.70,240.60 209.90,240.60 210.10,240.60 210.30,240.60 210.50,240.60 210.70,240.60 210.90,240.60 211.10,240.60 211.30,240.60 211.50,240.60 211.70,240.60 211.90,240.60 212.10,240.60 212.30,240.60 212.50,240.60 212.70,240.60 212.90,240.60 213.10,240.60 213.30,240.60 213.50,240.60 213.70,240.60 213.90,240.60 214.10,240.60 214.30,240.60 214.50,240.60 214.70,240.60 214.90,240.60 215.10,240.60 215.30,240.60 215.50,240.60 215.70,240.60 215.90,240.60 216.10,240.60 216.30,240.60 216.50,240.60 216.70,240.60 216.90,240.60 217.10,240.60 217.30,240.60 217.50,240.60 217.70,240.60 217.90,240.60 218.10,240.60 218.30,240.60 218.50,240.60 218.70,240.60 218.90,240.60 219.10,240.60 219.30,240.60 219.50,240.60 219.70,240.60 219.90,240.60 220.10,240.60 220.30,240.60 220.50,240.60 220.70,240.60 220.90,240.60 221.10,240.60 221.30,240.60 221.50,240.60 221.70,240.60 221.90,240.60 222.10,240.60 222.30,240.60 222.50,240.60 222.70,240.60 222.90,240.60 223.10,240.60 223.30,240.60 223.50,240.60 223.70,240.60 223.90,240.60 224.10,240.60 224.30,240.60 224.50,240.60 224.70,240.60 224.90,240.60 225.10,240.60 225.30,240.60 225.50,240.60 225.70,240.60 225.90,240.60 226.10,240.60 226.30,240.60 226.50,240.60 226.70,240.60 226.90,240.60 227.10,240.60 227.30,240.60 227.50,240.60 227.70,240.60 227.90,240.60 228.10,240.60 228.30,240.60 228.50,240.60 228.70,240.60 228.90,240.60 229.10,240.60 229.30,240.60 229.50,240.60 229.70,240.60 229.90,240.60 230.10,240.60 230.30,240.60 230.50,240.60 230.70,240.60 230.90,240.60 231.10,240.60 231.30,240.60 231.50,240.60 231.70,240.60 231.90,240.60 232.10,240.60 232.30,240.60 232.50,240.60 232.70,240.60 232.90,240.60 233.10,240.60 233.30,240.60 233.50,240.60 233.70,240.60 233.90,240.60 234.10,240.60 234.30,240.60 234.50,240.60 234.70,240.60 234.90,240.60 235.10,240.60 235.30,240.60 235.50,240.60 235.70,240.60 235.90,240.60 236.10,240.60 236.30,240.60 236.50,240.60 236.70,240.60 236.90,240.60 237.10,240.60 237.30,240.60 237.50,240.60 237.70,240.60 237.90,240.60 238.10,240.60 238.30,240.60 238.50,240.60 238.70,240.60 238.90,240.60 239.10,240.60 239.30,240.60 239.50,240.60 239.70,240.60 239.90,240.60 240.10,240.60 240.30,240.60 240.50,240.60 240.70,240.60 240.90,240.60 241.10,240.60 241.30,240.60 241.50,240.60 241.70,240.60 241.90,240.60 242.10,240.60 242.30,240.60 242.50,240.60 242.70,240.60 242.90,240.60 243.10,240.60 243.30,240.60 243.50,240.60 243.70,240.60 243.90,240.60 244.10,240.60 244.30,240.60 244.50,240.60 244.70,240.60 244.90,240.60 245.10,240.60 245.30,240.60 245.50,240.60 245.70,240.60 245.90,240.60 246.10,240.60 246.30,240.60 246.50,240.60 246.70,240.60 246.90,240.60 247.10,240.60 247.30,240.60 247.50,240.60 247.70,240.60 247.90,240.60 248.10,240.60 248.30,240.60 248.50,240.60 248.70,240.60 248.90,240.60 249.10,240.60 249.30,240.60 249.50,240.60 249.70,240.60 249.90,240.60 250.10,240.60 250.30,240.60 250.50,240.60 250.70,240.60 250.90,240.60 251.10,240.60 251.30,240.60 251.50,240.60 251.70,240.60 251.90,240.60 252.10,240.60 252.30,240.60 252.50,240.60 252.70,240.60 252.90,240.60 253.10,240.60 253.30,240.60 253.50,240.60 253.70,240.60 253.90,240.60 254.10,240.60 254.30,240.60 254.50,240.60 254.70,240.60 254.90,240.60 255.10,240.60 255.30,240.60 255.50,240.60 255.70,240.60 255.90,240.60 256.10,240.60 256.30,240.60 256.50,240.60 256.70,240.60 256.90,240.60 257.10,240.60 257.30,240.60 257.50,240.60 257.70,240.60 257.90,240.60 258.10,240.60 258.30,240.60 258.50,240.60 258.70,240.60 258.90,240.60 259.10,240.60 259.30,240.60 259.50,240.60 259.70,240.60 259.90,240.60 260.10,240.60 260.30,240.60 260.50,240.60 260.70,240.60 260.90,240.60 261.10,240.60 261.30,240.60 261.50,240.60 261.70,240.60 261.90,240.60 262.10,240.60 262.30,240.60 262.50,240.60 262.70,240.60 262.90,240.60 263.10,240.60 263.30,240.60 263.50,240.60 263.70,240.60 263.90,240.60 264.10,240.60 264.30,240.60 264.50,240.60 264.70,240.60 264.90,240.60 265.10,240.60 265.30,240.60 265.50,240.60 265.70,240.60 265.90,240.60 266.10,240.60 266.30,240.60 266.50,240.60 266.70,240.60 266.90,240.60 267.10,240.60 267.30,240.60 267.50,240.60 267.70,240.60 267.90,240.60 268.10,240.60 268.30,240.60 268.50,240.60 268.70,240.60 268.90,240.60 269.10,240.60 269.30,240.60 269.50,240.60 269.70,240.60 269.90,240.60 270.10,240.60 270.30,240.60 270.50,240.60 270.70,240.60 270.90,240.60 271.10,240.60 271.30,240.60 271.50,240.60 271.70,240.60 271.90,240.60 272.10,240.60 272.30,240.60 272.50,240.60 272.70,240.60 272.90,240.60 273.10,240.60 273.30,240.60 273.50,240.60 273.70,240.60 273.90,240.60 274.10,240.60 274.30,240.60 274.50,240.60 274.70,240.60 274.90,240.60 275.10,240.60 275.30,240.60 275.50,240.60 275.70,240.60 275.90,240.60 276.10,240.60 276.30,240.60 276.50,240.60 276.70,240.60 276.90,240.60 277.10,240.60 277.30,240.60 277.50,240.60 277.70,240.60 277.90,240.60 278.10,240.60 278.30,240.60 278.50,240.60 278.70,240.60 278.90,240.60 279.10,240.60 279.30,240.60 279.50,240.60 279.70,240.60 279.90,240.60 280.10,240.60 280.30,240.60 280.50,240.60 280.70,240.60 280.90,240.60 281.10,240.60 281.30,240.60 281.50,240.60 281.70,240.60 281.90,240.60 282.10,240.60 282.30,240.60 282.50,240.60 282.70,240.60 282.90,240.60 283.10,240.60 283.30,240.60 283.50,240.60 283.70,240.60 283.90,240.60 284.10,240.60 284.30,240.60 284.50,240.60 284.70,240.60 284.90,240.60 285.10,240.60 285.30,240.60 285.50,240.60 285.70,240.60 285.90,240.60 286.10,240.60 286.30,240.60 286.50,240.60 286.70,240.60 286.90,240.60 287.10,240.60 287.30,240.60 287.50,240.60 287.70,240.60 287.90,240.60 288.10,240.60 288.30,240.60 288.50,240.60 288.70,240.60 288.90,240.60 289.10,240.60 289.30,240.60 289.50,240.60 289.70,240.60 289.90,240.60 290.10,240.60 290.30,240.60 290.50,240.60 290.70,240.60 290.90,240.60 291.10,240.60 291.30,240.60 291.50,240.60 291.70,240.60 291.90,240.60 292.10,240.60 292.30,240.60 292.50,240.60 292.70,240.60 292.90,240.60 293.10,240.60 293.30,240.60 293.50,240.60 293.70,240.60 293.90,240.60 294.10,240.60 294.30,240.60 294.50,240.60 294.70,240.60 294.90,240.60 295.10,240.60 295.30,240.60 295.50,240.60 295.70,240.60 295.90,240.60 296.10,240.60 296.30,240.60 296.50,240.60 296.70,240.60 296.90,240.60 297.10,240.60 297.30,240.60 297.50,240.60 297.70,240.60 297.90,240.60 298.10,240.60 298.30,240.60 298.50,240.60 298.70,240.60 298.90,240.60 299.10,240.60 299.30,240.60 299.50,240.60 299.70,240.60 299.90,240.60 300.10,240.60 300.30,240.60 300.50,240.60 300.70,240.60 300.90,240.60 301.10,240.60 301.30,240.60 301.50,240.60 301.70,240.60 301.90,240.60 302.10,240.60 302.30,240.60 302.50,240.60 302.70,240.60 302.90,240.60 303.10,240.60 303.30,240.60 303.50,240.60 303.70,240.60 303.90,240.60 304.10,240.60" fill="none" stroke="#444" stroke-width="0.9" stroke-linejoin="round" />
<path d="M48.5 215.6V240.6 M65.6 196.5V240.6 M80.3 237.2V240.6 M116.4 200.5V240.6 M126.6 214V240.6 M137 225.3V240.6 M146.6 227.2V240.6 M156.4 224.9V240.6 M165.5 239.0V240.6 M174.2 223.6V240.6 M191.9 216.2V240.6 M200.6 219.9V240.6 M208.8 235.6V240.6 M217.6 226.1V240.6 M226.3 212.9V240.6 M234.8 236.8V240.6 M243.2 232.4V240.6 M260.7 223.1V240.6 M269.1 229.9V240.6 M278.1 226.9V240.6 M287.6 221.1V240.6 M296.8 216.9V240.6" stroke="#222" stroke-width="1.1" fill="none"/>
<polyline points="30.50,291.69 30.70,291.69 30.90,291.69 31.10,291.69 31.30,291.69 31.50,291.69 31.70,291.69 31.90,291.69 32.10,291.69 32.30,291.69 32.50,291.69 32.70,291.69 32.90,291.69 33.10,291.69 33.30,291.69 33.50,291.69 33.70,291.69 33.90,291.69 34.10,291.69 34.30,291.69 34.50,291.69 34.70,291.69 34.90,291.69 35.10,291.69 35.30,291.69 35.50,291.69 35.70,291.69 35.90,291.69 36.10,291.69 36.30,291.69 36.50,291.69 36.70,291.69 36.90,291.69 37.10,291.69 37.30,291.69 37.50,291.69 37.70,291.69 37.90,291.69 38.10,291.69 38.30,291.69 38.50,291.69 38.70,291.69 38.90,291.68 39.10,291.68 39.30,291.68 39.50,291.68 39.70,291.68 39.90,291.68 40.10,291.68 40.30,291.68 40.50,291.68 40.70,291.68 40.90,291.68 41.10,291.68 41.30,291.68 41.50,291.68 41.70,291.68 41.90,291.68 42.10,291.68 42.30,291.67 42.50,291.67 42.70,291.67 42.90,291.67 43.10,291.67 43.30,291.67 43.50,291.67 43.70,291.67 43.90,291.67 44.10,291.66 44.30,291.66 44.50,291.66 44.70,291.66 44.90,291.66 45.10,291.66 45.30,291.65 45.50,291.65 45.70,291.65 45.90,291.65 46.10,291.64 46.30,291.64 46.50,291.64 46.70,291.63 46.90,291.63 47.10,291.62 47.30,291.62 47.50,291.61 47.70,291.60 47.90,291.60 48.10,291.59 48.30,291.58 48.50,291.57 48.70,291.56 48.90,291.54 49.10,291.53 49.30,291.51 49.50,291.49 49.70,291.46 49.90,291.43 50.10,291.40 50.30,291.35 50.50,291.30 50.70,291.23 50.90,291.15 51.10,291.04 51.30,290.90 51.50,290.71 51.70,290.46 51.90,290.11 52.10,289.62 52.30,288.95 52.50,288.06 52.70,287.05 52.90,286.31 53.10,286.31 53.30,287.05 53.50,288.06 53.70,288.95 53.90,289.62 54.10,290.11 54.30,290.46 54.50,290.71 54.70,290.90 54.90,291.04 55.10,291.15 55.30,291.23 55.50,291.30 55.70,291.35 55.90,291.39 56.10,291.43 56.30,291.46 56.50,291.49 56.70,291.51 56.90,291.53 57.10,291.54 57.30,291.56 57.50,291.57 57.70,291.58 57.90,291.59 58.10,291.60 58.30,291.60 58.50,291.61 58.70,291.62 58.90,291.62 59.10,291.63 59.30,291.63 59.50,291.63 59.70,291.64 59.90,291.64 60.10,291.64 60.30,291.65 60.50,291.65 60.70,291.65 60.90,291.65 61.10,291.66 61.30,291.66 61.50,291.66 61.70,291.66 61.90,291.66 62.10,291.66 62.30,291.67 62.50,291.67 62.70,291.67 62.90,291.67 63.10,291.67 63.30,291.67 63.50,291.67 63.70,291.67 63.90,291.67 64.10,291.68 64.30,291.68 64.50,291.68 64.70,291.68 64.90,291.68 65.10,291.68 65.30,291.68 65.50,291.68 65.70,291.68 65.90,291.68 66.10,291.68 66.30,291.68 66.50,291.68 66.70,291.68 66.90,291.68 67.10,291.68 67.30,291.68 67.50,291.68 67.70,291.68 67.90,291.68 68.10,291.68 68.30,291.68 68.50,291.69 68.70,291.69 68.90,291.69 69.10,291.69 69.30,291.69 69.50,291.69 69.70,291.69 69.90,291.69 70.10,291.69 70.30,291.69 70.50,291.69 70.70,291.69 70.90,291.69 71.10,291.69 71.30,291.69 71.50,291.69 71.70,291.69 71.90,291.69 72.10,291.69 72.30,291.69 72.50,291.69 72.70,291.69 72.90,291.69 73.10,291.69 73.30,291.69 73.50,291.69 73.70,291.69 73.90,291.69 74.10,291.69 74.30,291.69 74.50,291.69 74.70,291.69 74.90,291.69 75.10,291.69 75.30,291.69 75.50,291.69 75.70,291.69 75.90,291.69 76.10,291.69 76.30,291.69 76.50,291.69 76.70,291.69 76.90,291.69 77.10,291.69 77.30,291.69 77.50,291.69 77.70,291.69 77.90,291.69 78.10,291.69 78.30,291.69 78.50,291.69 78.70,291.69 78.90,291.69 79.10,291.69 79.30,291.69 79.50,291.69 79.70,291.69 79.90,291.69 80.10,291.69 80.30,291.69 80.50,291.69 80.70,291.69 80.90,291.69 81.10,291.69 81.30,291.69 81.50,291.69 81.70,291.69 81.90,291.69 82.10,291.69 82.30,291.69 82.50,291.69 82.70,291.69 82.90,291.69 83.10,291.69 83.30,291.69 83.50,291.69 83.70,291.69 83.90,291.69 84.10,291.69 84.30,291.69 84.50,291.69 84.70,291.69 84.90,291.69 85.10,291.69 85.30,291.69 85.50,291.69 85.70,291.69 85.90,291.69 86.10,291.69 86.30,291.69 86.50,291.69 86.70,291.69 86.90,291.69 87.10,291.69 87.30,291.69 87.50,291.69 87.70,291.69 87.90,291.69 88.10,291.69 88.30,291.69 88.50,291.69 88.70,291.68 88.90,291.68 89.10,291.68 89.30,291.68 89.50,291.68 89.70,291.68 89.90,291.68 90.10,291.68 90.30,291.68 90.50,291.68 90.70,291.68 90.90,291.68 91.10,291.68 91.30,291.68 91.50,291.68 91.70,291.68 91.90,291.68 92.10,291.68 92.30,291.68 92.50,291.68 92.70,291.68 92.90,291.68 93.10,291.68 93.30,291.68 93.50,291.67 93.70,291.67 93.90,291.67 94.10,291.67 94.30,291.67 94.50,291.67 94.70,291.67 94.90,291.67 95.10,291.67 95.30,291.67 95.50,291.67 95.70,291.66 95.90,291.66 96.10,291.66 96.30,291.66 96.50,291.66 96.70,291.66 96.90,291.65 97.10,291.65 97.30,291.65 97.50,291.65 97.70,291.64 97.90,291.64 98.10,291.64 98.30,291.63 98.50,291.63 98.70,291.63 98.90,291.62 99.10,291.62 99.30,291.61 99.50,291.61 99.70,291.60 99.90,291.59 100.10,291.58 100.30,291.57 100.50,291.56 100.70,291.55 100.90,291.54 101.10,291.52 101.30,291.50 101.50,291.48 101.70,291.46 101.90,291.43 102.10,291.39 102.30,291.35 102.50,291.29 102.70,291.23 102.90,291.14 103.10,291.04 103.30,290.90 103.50,290.71 103.70,290.46 103.90,290.11 104.10,289.62 104.30,288.94 104.50,288.05 104.70,287.05 104.90,286.30 105.10,286.30 105.30,287.05 105.50,288.05 105.70,288.94 105.90,289.62 106.10,290.11 106.30,290.46 106.50,290.71 106.70,290.89 106.90,291.03 107.10,291.14 107.30,291.23 107.50,291.29 107.70,291.34 107.90,291.39 108.10,291.42 108.30,291.45 108.50,291.48 108.70,291.50 108.90,291.52 109.10,291.53 109.30,291.55 109.50,291.56 109.70,291.57 109.90,291.58 110.10,291.59 110.30,291.60 110.50,291.60 110.70,291.61 110.90,291.61 111.10,291.62 111.30,291.62 111.50,291.63 111.70,291.63 111.90,291.63 112.10,291.63 112.30,291.64 112.50,291.64 112.70,291.64 112.90,291.64 113.10,291.65 113.30,291.65 113.50,291.65 113.70,291.65 113.90,291.65 114.10,291.65 114.30,291.65 114.50,291.65 114.70,291.66 114.90,291.66 115.10,291.66 115.30,291.66 115.50,291.66 115.70,291.66 115.90,291.66 116.10,291.66 116.30,291.66 116.50,291.66 116.70,291.66 116.90,291.66 117.10,291.66 117.30,291.66 117.50,291.66 117.70,291.66 117.90,291.66 118.10,291.66 118.30,291.66 118.50,291.66 118.70,291.66 118.90,291.66 119.10,291.66 119.30,291.66 119.50,291.65 119.70,291.65 119.90,291.65 120.10,291.65 120.30,291.65 120.50,291.65 120.70,291.65 120.90,291.65 121.10,291.64 121.30,291.64 121.50,291.64 121.70,291.64 121.90,291.63 122.10,291.63 122.30,291.63 122.50,291.62 122.70,291.62 122.90,291.62 123.10,291.61 123.30,291.61 123.50,291.60 123.70,291.59 123.90,291.59 124.10,291.58 124.30,291.57 124.50,291.56 124.70,291.55 124.90,291.53 125.10,291.52 125.30,291.50 125.50,291.48 125.70,291.45 125.90,291.42 126.10,291.39 126.30,291.34 126.50,291.29 126.70,291.22 126.90,291.14 127.10,291.03 127.30,290.89 127.50,290.71 127.70,290.45 127.90,290.11 128.10,289.62 128.30,288.94 128.50,288.05 128.70,287.04 128.90,286.30 129.10,286.30 129.30,287.04 129.50,288.05 129.70,288.94 129.90,289.62 130.10,290.11 130.30,290.46 130.50,290.71 130.70,290.89 130.90,291.03 131.10,291.14 131.30,291.23 131.50,291.29 131.70,291.35 131.90,291.39 132.10,291.42 132.30,291.45 132.50,291.48 132.70,291.50 132.90,291.52 133.10,291.54 133.30,291.55 133.50,291.56 133.70,291.57 133.90,291.58 134.10,291.59 134.30,291.60 134.50,291.60 134.70,291.61 134.90,291.62 135.10,291.62 135.30,291.62 135.50,291.63 135.70,291.63 135.90,291.64 136.10,291.64 136.30,291.64 136.50,291.64 136.70,291.65 136.90,291.65 137.10,291.65 137.30,291.65 137.50,291.65 137.70,291.66 137.90,291.66 138.10,291.66 138.30,291.66 138.50,291.66 138.70,291.66 138.90,291.66 139.10,291.66 139.30,291.67 139.50,291.67 139.70,291.67 139.90,291.67 140.10,291.67 140.30,291.67 140.50,291.67 140.70,291.67 140.90,291.67 141.10,291.67 141.30,291.67 141.50,291.67 141.70,291.67 141.90,291.67 142.10,291.67 142.30,291.67 142.50,291.68 142.70,291.68 142.90,291.68 143.10,291.68 143.30,291.68 143.50,291.68 143.70,291.68 143.90,291.68 144.10,291.68 144.30,291.68 144.50,291.68 144.70,291.68 144.90,291.68 145.10,291.68 145.30,291.68 145.50,291.68 145.70,291.68 145.90,291.68 146.10,291.68 146.30,291.68 146.50,291.68 146.70,291.68 146.90,291.68 147.10,291.68 147.30,291.68 147.50,291.68 147.70,291.68 147.90,291.68 148.10,291.68 148.30,291.68 148.50,291.68 148.70,291.68 148.90,291.68 149.10,291.68 149.30,291.68 149.50,291.68 149.70,291.68 149.90,291.68 150.10,291.68 150.30,291.68 150.50,291.68 150.70,291.68 150.90,291.68 151.10,291.68 151.30,291.68 151.50,291.67 151.70,291.67 151.90,291.67 152.10,291.67 152.30,291.67 152.50,291.67 152.70,291.67 152.90,291.67 153.10,291.67 153.30,291.67 153.50,291.67 153.70,291.67 153.90,291.67 154.10,291.67 154.30,291.67 154.50,291.67 154.70,291.66 154.90,291.66 155.10,291.66 155.30,291.66 155.50,291.66 155.70,291.66 155.90,291.66 156.10,291.66 156.30,291.65 156.50,291.65 156.70,291.65 156.90,291.65 157.10,291.65 157.30,291.65 157.50,291.64 157.70,291.64 157.90,291.64 158.10,291.63 158.30,291.63 158.50,291.63 158.70,291.62 158.90,291.62 159.10,291.61 159.30,291.61 159.50,291.60 159.70,291.60 159.90,291.59 160.10,291.58 160.30,291.57 160.50,291.56 160.70,291.55 160.90,291.53 161.10,291.52 161.30,291.50 161.50,291.48 161.70,291.45 161.90,291.42 162.10,291.39 162.30,291.34 162.50,291.29 162.70,291.22 162.90,291.14 163.10,291.03 163.30,290.89 163.50,290.71 163.70,290.45 163.90,290.10 164.10,289.62 164.30,288.94 164.50,288.05 164.70,287.04 164.90,286.30 165.10,286.30 165.30,287.04 165.50,288.05 165.70,288.94 165.90,289.61 166.10,290.10 166.30,290.45 166.50,290.70 166.70,290.89 166.90,291.03 167.10,291.14 167.30,291.22 167.50,291.29 167.70,291.34 167.90,291.38 168.10,291.42 168.30,291.45 168.50,291.47 168.70,291.49 168.90,291.51 169.10,291.53 169.30,291.54 169.50,291.55 169.70,291.56 169.90,291.57 170.10,291.58 170.30,291.59 170.50,291.59 170.70,291.60 170.90,291.61 171.10,291.61 171.30,291.61 171.50,291.62 171.70,291.62 171.90,291.62 172.10,291.63 172.30,291.63 172.50,291.63 172.70,291.63 172.90,291.63 173.10,291.64 173.30,291.64 173.50,291.64 173.70,291.64 173.90,291.64 174.10,291.64 174.30,291.64 174.50,291.64 174.70,291.64 174.90,291.64 175.10,291.64 175.30,291.64 175.50,291.64 175.70,291.64 175.90,291.64 176.10,291.64 176.30,291.64 176.50,291.64 176.70,291.64 176.90,291.63 177.10,291.63 177.30,291.63 177.50,291.63 177.70,291.63 177.90,291.62 178.10,291.62 178.30,291.62 178.50,291.62 178.70,291.61 178.90,291.61 179.10,291.60 179.30,291.60 179.50,291.59 179.70,291.58 179.90,291.58 180.10,291.57 180.30,291.56 180.50,291.55 180.70,291.54 180.90,291.52 181.10,291.50 181.30,291.48 181.50,291.46 181.70,291.43 181.90,291.40 182.10,291.36 182.30,291.31 182.50,291.25 182.70,291.18 182.90,291.09 183.10,290.96 183.30,290.80 183.50,290.59 183.70,290.29 183.90,289.88 184.10,289.30 184.30,288.52 184.50,287.54 184.70,286.60 184.90,286.19 185.10,286.60 185.30,287.54 185.50,288.52 185.70,289.30 185.90,289.88 186.10,290.29 186.30,290.59 186.50,290.80 186.70,290.97 186.90,291.09 187.10,291.18 187.30,291.26 187.50,291.32 187.70,291.36 187.90,291.40 188.10,291.44 188.30,291.46 188.50,291.49 188.70,291.51 188.90,291.53 189.10,291.54 189.30,291.55 189.50,291.56 189.70,291.57 189.90,291.58 190.10,291.59 190.30,291.60 190.50,291.60 190.70,291.61 190.90,291.61 191.10,291.62 191.30,291.62 191.50,291.63 191.70,291.63 191.90,291.63 192.10,291.64 192.30,291.64 192.50,291.64 192.70,291.64 192.90,291.65 193.10,291.65 193.30,291.65 193.50,291.65 193.70,291.65 193.90,291.66 194.10,291.66 194.30,291.66 194.50,291.66 194.70,291.66 194.90,291.66 195.10,291.66 195.30,291.66 195.50,291.66 195.70,291.66 195.90,291.67 196.10,291.67 196.30,291.67 196.50,291.67 196.70,291.67 196.90,291.67 197.10,291.67 197.30,291.67 197.50,291.67 197.70,291.67 197.90,291.67 198.10,291.67 198.30,291.67 198.50,291.67 198.70,291.67 198.90,291.67 199.10,291.67 199.30,291.67 199.50,291.67 199.70,291.67 199.90,291.67 200.10,291.67 200.30,291.67 200.50,291.67 200.70,291.67 200.90,291.67 201.10,291.67 201.30,291.67 201.50,291.67 201.70,291.67 201.90,291.67 202.10,291.67 202.30,291.67 202.50,291.67 202.70,291.67 202.90,291.67 203.10,291.67 203.30,291.67 203.50,291.67 203.70,291.67 203.90,291.67 204.10,291.67 204.30,291.67 204.50,291.67 204.70,291.67 204.90,291.67 205.10,291.67 205.30,291.67 205.50,291.67 205.70,291.67 205.90,291.67 206.10,291.66 206.30,291.66 206.50,291.66 206.70,291.66 206.90,291.66 207.10,291.66 207.30,291.66 207.50,291.66 207.70,291.66 207.90,291.66 208.10,291.65 208.30,291.65 208.50,291.65 208.70,291.65 208.90,291.65 209.10,291.65 209.30,291.64 209.50,291.64 209.70,291.64 209.90,291.64 210.10,291.63 210.30,291.63 210.50,291.63 210.70,291.62 210.90,291.62 211.10,291.61 211.30,291.61 211.50,291.60 211.70,291.59 211.90,291.59 212.10,291.58 212.30,291.57 212.50,291.56 212.70,291.55 212.90,291.53 213.10,291.52 213.30,291.50 213.50,291.48 213.70,291.45 213.90,291.42 214.10,291.39 214.30,291.34 214.50,291.29 214.70,291.22 214.90,291.14 215.10,291.03 215.30,290.89 215.50,290.70 215.70,290.45 215.90,290.10 216.10,289.61 216.30,288.94 216.50,288.05 216.70,287.04 216.90,286.30 217.10,286.30 217.30,287.04 217.50,288.04 217.70,288.94 217.90,289.61 218.10,290.10 218.30,290.45 218.50,290.70 218.70,290.89 218.90,291.03 219.10,291.14 219.30,291.22 219.50,291.28 219.70,291.34 219.90,291.38 220.10,291.42 220.30,291.45 220.50,291.47 220.70,291.49 220.90,291.51 221.10,291.53 221.30,291.54 221.50,291.55 221.70,291.56 221.90,291.57 222.10,291.58 222.30,291.59 222.50,291.59 222.70,291.60 222.90,291.60 223.10,291.61 223.30,291.61 223.50,291.61 223.70,291.62 223.90,291.62 224.10,291.62 224.30,291.63 224.50,291.63 224.70,291.63 224.90,291.63 225.10,291.63 225.30,291.63 225.50,291.63 225.70,291.63 225.90,291.63 226.10,291.64 226.30,291.64 226.50,291.64 226.70,291.64 226.90,291.64 227.10,291.63 227.30,291.63 227.50,291.63 227.70,291.63 227.90,291.63 228.10,291.63 228.30,291.63 228.50,291.63 228.70,291.63 228.90,291.62 229.10,291.62 229.30,291.62 229.50,291.61 229.70,291.61 229.90,291.61 230.10,291.60 230.30,291.60 230.50,291.59 230.70,291.59 230.90,291.58 231.10,291.57 231.30,291.56 231.50,291.55 231.70,291.54 231.90,291.53 232.10,291.51 232.30,291.49 232.50,291.47 232.70,291.45 232.90,291.42 233.10,291.38 233.30,291.34 233.50,291.28 233.70,291.22 233.90,291.14 234.10,291.03 234.30,290.89 234.50,290.70 234.70,290.45 234.90,290.10 235.10,289.61 235.30,288.94 235.50,288.04 235.70,287.04 235.90,286.30 236.10,286.30 236.30,287.04 236.50,288.05 236.70,288.94 236.90,289.61 237.10,290.10 237.30,290.45 237.50,290.70 237.70,290.89 237.90,291.03 238.10,291.14 238.30,291.22 238.50,291.29 238.70,291.34 238.90,291.39 239.10,291.42 239.30,291.45 239.50,291.48 239.70,291.50 239.90,291.52 240.10,291.53 240.30,291.55 240.50,291.56 240.70,291.57 240.90,291.58 241.10,291.59 241.30,291.59 241.50,291.60 241.70,291.61 241.90,291.61 242.10,291.62 242.30,291.62 242.50,291.63 242.70,291.63 242.90,291.63 243.10,291.64 243.30,291.64 243.50,291.64 243.70,291.64 243.90,291.65 244.10,291.65 244.30,291.65 244.50,291.65 244.70,291.65 244.90,291.65 245.10,291.66 245.30,291.66 245.50,291.66 245.70,291.66 245.90,291.66 246.10,291.66 246.30,291.66 246.50,291.66 246.70,291.66 246.90,291.67 247.10,291.67 247.30,291.67 247.50,291.67 247.70,291.67 247.90,291.67 248.10,291.67 248.30,291.67 248.50,291.67 248.70,291.67 248.90,291.67 249.10,291.67 249.30,291.67 249.50,291.67 249.70,291.67 249.90,291.67 250.10,291.67 250.30,291.67 250.50,291.67 250.70,291.67 250.90,291.67 251.10,291.67 251.30,291.67 251.50,291.67 251.70,291.67 251.90,291.67 252.10,291.67 252.30,291.67 252.50,291.67 252.70,291.67 252.90,291.67 253.10,291.67 253.30,291.67 253.50,291.67 253.70,291.67 253.90,291.67 254.10,291.67 254.30,291.67 254.50,291.67 254.70,291.67 254.90,291.67 255.10,291.67 255.30,291.67 255.50,291.67 255.70,291.67 255.90,291.67 256.10,291.67 256.30,291.67 256.50,291.67 256.70,291.67 256.90,291.67 257.10,291.67 257.30,291.67 257.50,291.67 257.70,291.67 257.90,291.66 258.10,291.66 258.30,291.66 258.50,291.66 258.70,291.66 258.90,291.66 259.10,291.66 259.30,291.66 259.50,291.66 259.70,291.65 259.90,291.65 260.10,291.65 260.30,291.65 260.50,291.65 260.70,291.64 260.90,291.64 261.10,291.64 261.30,291.64 261.50,291.63 261.70,291.63 261.90,291.63 262.10,291.62 262.30,291.62 262.50,291.61 262.70,291.61 262.90,291.60 263.10,291.60 263.30,291.59 263.50,291.58 263.70,291.57 263.90,291.56 264.10,291.55 264.30,291.53 264.50,291.52 264.70,291.50 264.90,291.48 265.10,291.45 265.30,291.42 265.50,291.39 265.70,291.34 265.90,291.29 266.10,291.22 266.30,291.14 266.50,291.03 266.70,290.89 266.90,290.71 267.10,290.45 267.30,290.10 267.50,289.62 267.70,288.94 267.90,288.05 268.10,287.04 268.30,286.30 268.50,286.30 268.70,287.04 268.90,288.05 269.10,288.94 269.30,289.62 269.50,290.10 269.70,290.45 269.90,290.70 270.10,290.89 270.30,291.03 270.50,291.14 270.70,291.22 270.90,291.29 271.10,291.34 271.30,291.38 271.50,291.42 271.70,291.45 271.90,291.48 272.10,291.50 272.30,291.51 272.50,291.53 272.70,291.54 272.90,291.56 273.10,291.57 273.30,291.58 273.50,291.58 273.70,291.59 273.90,291.60 274.10,291.60 274.30,291.61 274.50,291.61 274.70,291.62 274.90,291.62 275.10,291.62 275.30,291.63 275.50,291.63 275.70,291.63 275.90,291.63 276.10,291.63 276.30,291.64 276.50,291.64 276.70,291.64 276.90,291.64 277.10,291.64 277.30,291.64 277.50,291.64 277.70,291.64 277.90,291.64 278.10,291.65 278.30,291.65 278.50,291.65 278.70,291.65 278.90,291.65 279.10,291.65 279.30,291.64 279.50,291.64 279.70,291.64 279.90,291.64 280.10,291.64 280.30,291.64 280.50,291.64 280.70,291.64 280.90,291.64 281.10,291.64 281.30,291.63 281.50,291.63 281.70,291.63 281.90,291.63 282.10,291.62 282.30,291.62 282.50,291.62 282.70,291.61 282.90,291.61 283.10,291.60 283.30,291.60 283.50,291.59 283.70,291.58 283.90,291.58 284.10,291.57 284.30,291.56 284.50,291.55 284.70,291.53 284.90,291.52 285.10,291.50 285.30,291.48 285.50,291.45 285.70,291.42 285.90,291.39 286.10,291.34 286.30,291.29 286.50,291.22 286.70,291.14 286.90,291.03 287.10,290.89 287.30,290.71 287.50,290.45 287.70,290.11 287.90,289.62 288.10,288.94 288.30,288.05 288.50,287.04 288.70,286.30 288.90,286.30 289.10,287.05 289.30,288.05 289.50,288.94 289.70,289.62 289.90,290.11 290.10,290.46 290.30,290.71 290.50,290.90 290.70,291.04 290.90,291.14 291.10,291.23 291.30,291.29 291.50,291.35 291.70,291.39 291.90,291.43 292.10,291.46 292.30,291.48 292.50,291.50 292.70,291.52 292.90,291.54 293.10,291.55 293.30,291.56 293.50,291.57 293.70,291.58 293.90,291.59 294.10,291.60 294.30,291.61 294.50,291.61 294.70,291.62 294.90,291.62 295.10,291.63 295.30,291.63 295.50,291.64 295.70,291.64 295.90,291.64 296.10,291.64 296.30,291.65 296.50,291.65 296.70,291.65 296.90,291.65 297.10,291.66 297.30,291.66 297.50,291.66 297.70,291.66 297.90,291.66 298.10,291.66 298.30,291.67 298.50,291.67 298.70,291.67 298.90,291.67 299.10,291.67 299.30,291.67 299.50,291.67 299.70,291.67 299.90,291.67 300.10,291.67 300.30,291.68 300.50,291.68 300.70,291.68 300.90,291.68 301.10,291.68 301.30,291.68 301.50,291.68 301.70,291.68 301.90,291.68 302.10,291.68 302.30,291.68 302.50,291.68 302.70,291.68 302.90,291.68 303.10,291.68 303.30,291.68 303.50,291.68 303.70,291.68 303.90,291.68 304.10,291.68" fill="none" stroke="#555" stroke-width="0.9" stroke-linejoin="round" />
<path d="M53.0 246.9V288.7 M105.0 250.5V288.7 M129.0 258.1V288.7 M165.0 269.4V288.7 M184.9 265.7V288.7 M217.0 261.2V288.7 M236.0 266.2V288.7 M268.4 271.9V288.7 M288.8 263.7V288.7" stroke="#333" stroke-width="1.2" fill="none"/>
<line x1="29.8" y1="240.6" x2="304.8" y2="240.6" stroke="#555" stroke-width="1.1"/>
<rect x="29.8" y="23.5" width="275.0" height="273.9" fill="none" stroke="#5a5a5a" stroke-width="1.4"/>
<path d="M27.8 24.7H29.8 M27.8 29.7H29.8 M27.8 34.6H29.8 M25.8 39.5H29.8 M27.8 44.4H29.8 M27.8 49.3H29.8 M27.8 54.3H29.8 M27.8 59.2H29.8 M25.8 64.1H29.8 M27.8 69.0H29.8 M27.8 73.9H29.8 M27.8 78.9H29.8 M27.8 83.8H29.8 M25.8 88.7H29.8 M27.8 93.6H29.8 M27.8 98.5H29.8 M27.8 103.5H29.8 M27.8 108.4H29.8 M25.8 113.3H29.8 M27.8 118.2H29.8 M27.8 123.1H29.8 M27.8 128.1H29.8 M27.8 133.0H29.8 M25.8 137.9H29.8 M27.8 142.8H29.8 M27.8 147.7H29.8 M27.8 152.7H29.8 M27.8 157.6H29.8 M25.8 162.5H29.8 M27.8 167.4H29.8 M27.8 172.3H29.8 M27.8 177.3H29.8 M27.8 182.2H29.8 M25.8 187.1H29.8 M27.8 192.0H29.8 M27.8 196.9H29.8 M27.8 201.9H29.8 M27.8 206.8H29.8 M25.8 211.7H29.8 M27.8 216.6H29.8 M27.8 221.5H29.8 M27.8 226.5H29.8 M27.8 231.4H29.8 M25.8 236.3H29.8 M27.8 241.2H29.8 M27.8 246.1H29.8 M27.8 251.1H29.8 M27.8 256.0H29.8 M25.8 260.9H29.8 M27.8 265.8H29.8 M27.8 270.7H29.8 M27.8 275.7H29.8 M27.8 280.6H29.8 M25.8 285.5H29.8 M27.8 290.4H29.8 M27.8 295.3H29.8 M29.4 297.4V302.2 M57.0 297.4V300.2 M84.6 297.4V302.2 M112.2 297.4V300.2 M139.8 297.4V302.2 M167.4 297.4V300.2 M195.0 297.4V302.2 M222.6 297.4V300.2 M250.2 297.4V302.2 M277.8 297.4V300.2 M305.4 297.4V302.2" stroke="#555" stroke-width="1" fill="none"/>
<text transform="translate(0.15,13.10) scale(1.094,1)" font-size="17.18" font-weight="bold" fill="#000" >(a)</text>
<text transform="translate(16.90,204.42) rotate(-90) scale(0.993,1)" font-size="17.70" font-weight="normal" fill="#000">Intensity (a.u.)</text>
<text transform="translate(27.69,319.90) scale(0.975,1)" font-size="18.50" font-weight="normal" fill="#000" >20</text>
<text transform="translate(75.55,319.90) scale(0.938,1)" font-size="18.50" font-weight="normal" fill="#000" >40</text>
<text transform="translate(128.78,319.90) scale(0.976,1)" font-size="18.50" font-weight="normal" fill="#000" >60</text>
<text transform="translate(185.19,319.90) scale(0.958,1)" font-size="18.50" font-weight="normal" fill="#000" >80</text>
<text transform="translate(235.72,319.90) scale(0.944,1)" font-size="18.50" font-weight="normal" fill="#000" >100</text>
<text transform="translate(289.39,319.90) scale(0.959,1)" font-size="18.50" font-weight="normal" fill="#000" >120</text>
<text transform="translate(155.45,336.90) scale(1.080,1)" font-size="17.43" font-weight="bold" fill="#000" >2θ</text>
<text transform="translate(103.30,53.80) scale(0.952,1)" font-size="10.65" font-weight="normal" fill="#000" >400 (Fd-3m)</text>
<text transform="translate(245.19,91.80) scale(0.959,1)" font-size="10.65" font-weight="normal" fill="#000" >633 (Ia-3)</text>
<text transform="translate(83.13,132.90) scale(0.975,1)" font-size="10.65" font-weight="normal" fill="#000" >211 (Ia-3)</text>
<text transform="translate(73.80,221.90) scale(0.912,1)" font-size="12.42" font-weight="normal" fill="#000" >Ia-3</text>
<text transform="translate(67.96,272.70) scale(0.941,1)" font-size="11.94" font-weight="normal" fill="#000" >Fd-3m</text>
<text transform="translate(210.22,199.10) scale(0.943,1)" font-size="9.50" font-weight="normal" fill="#000" >Silicon Wafer (reference)</text>
<line x1="154.7" y1="45.4" x2="160.09" y2="39.54" stroke="#111" stroke-width="0.8"/>
<polygon points="162.8,36.6 161.42,40.76 158.77,38.32" fill="#111"/>
<line x1="287.5" y1="96.4" x2="292.75" y2="102.72" stroke="#111" stroke-width="0.8"/>
<polygon points="295.3,105.8 291.36,103.87 294.13,101.57" fill="#111"/>
<line x1="80.2" y1="126.6" x2="75.82" y2="123.10" stroke="#111" stroke-width="0.8"/>
<polygon points="72.7,120.6 76.95,121.69 74.70,124.50" fill="#111"/>
<line x1="80.2" y1="131.3" x2="76.80" y2="134.07" stroke="#111" stroke-width="0.8"/>
<polygon points="73.7,136.6 75.66,132.68 77.94,135.47" fill="#111"/>
<polyline points="447.8,225.8 480.0,224.6 535.0,222.3 556.0,221.6 598.0,221.2" fill="none" stroke="#222" stroke-width="1.0" stroke-dasharray="1.5,1.2"/>
<polyline points="374.50,229.80 375.00,229.80 375.50,229.80 376.00,229.80 376.50,229.80 377.00,229.80 377.50,229.80 378.00,229.80 378.50,229.80 379.00,229.80 379.50,229.80 380.00,229.80 380.50,229.80 381.00,229.79 381.50,229.78 382.00,229.76 382.50,229.75 383.00,229.72 383.50,229.69 384.00,229.66 384.50,229.63 385.00,229.59 385.50,229.55 386.00,229.50 386.50,229.45 387.00,229.40 387.50,229.35 388.00,229.29 388.50,229.23 389.00,229.16 389.50,229.09 390.00,229.02 390.50,228.95 391.00,228.88 391.50,228.80 392.00,228.72 392.50,228.64 393.00,228.55 393.50,228.46 394.00,228.36 394.50,228.23 395.00,228.09 395.50,227.92 396.00,227.73 396.50,227.52 397.00,227.29 397.50,227.04 398.00,226.78 398.50,226.49 399.00,226.18 399.50,225.85 400.00,225.50 400.50,225.13 401.00,224.74 401.50,224.32 402.00,223.77 402.50,223.09 403.00,222.29 403.50,221.40 404.00,220.44 404.50,219.44 405.00,218.42 405.50,217.39 406.00,216.30 406.50,215.14 407.00,213.89 407.50,212.56 408.00,211.15 408.50,209.63 409.00,208.00 409.50,206.16 410.00,204.15 410.50,202.00 411.00,199.75 411.50,197.43 412.00,194.91 412.50,192.20 413.00,189.41 413.50,186.64 414.00,184.00 414.50,181.61 415.00,179.41 415.50,177.27 416.00,175.06 416.50,172.63 417.00,169.84 417.50,166.46 418.00,162.16 418.50,157.29 419.00,152.30 419.50,147.59 420.00,142.94 420.50,138.24 421.00,133.65 421.50,129.31 422.00,125.38 422.50,121.85 423.00,118.55 423.50,115.29 424.00,111.91 424.50,108.06 425.00,103.77 425.50,99.81 426.00,97.00 426.50,95.05 427.00,93.28 427.50,91.86 428.00,90.95 428.50,90.71 429.00,91.06 429.50,91.83 430.00,92.87 430.50,94.08 431.00,95.33 431.50,96.50 432.00,97.65 432.50,98.89 433.00,100.20 433.50,101.53 434.00,102.86 434.50,104.20 435.00,105.62 435.50,107.20 436.00,109.08 436.50,111.22 437.00,113.49 437.50,115.73 438.00,117.79 438.50,119.68 439.00,121.51 439.50,123.35 440.00,125.29 440.50,127.30 441.00,129.37 441.50,131.46 442.00,133.58 442.50,135.67 443.00,137.74 443.50,139.85 444.00,142.05 444.50,144.40 445.00,147.01 445.50,149.83 446.00,152.70 446.50,155.64 447.00,158.67 447.50,161.63 448.00,164.37 448.50,167.00 449.00,169.55 449.50,172.00 450.00,174.35 450.50,176.60 451.00,178.76 451.50,180.86 452.00,182.89 452.50,184.85 453.00,186.73 453.50,188.53 454.00,190.23 454.50,191.87 455.00,193.45 455.50,194.98 456.00,196.46 456.50,197.90 457.00,199.29 457.50,200.63 458.00,201.93 458.50,203.20 459.00,204.48 459.50,205.80 460.00,207.12 460.50,208.38 461.00,209.53 461.50,210.53 462.00,211.33 462.50,211.89 463.00,212.35 463.50,212.80 464.00,213.22 464.50,213.61 465.00,213.99 465.50,214.34 466.00,214.67 466.50,214.96 467.00,215.23 467.50,215.47 468.00,215.68 468.50,215.86 469.00,216.00 469.50,216.10 470.00,216.17 470.50,216.20 471.00,216.22 471.50,216.24 472.00,216.26 472.50,216.27 473.00,216.29 473.50,216.30 474.00,216.31 474.50,216.33 475.00,216.34 475.50,216.35 476.00,216.36 476.50,216.37 477.00,216.37 477.50,216.38 478.00,216.39 478.50,216.39 479.00,216.39 479.50,216.40 480.00,216.40 480.50,216.40 481.00,216.40 481.50,216.37 482.00,216.30 482.50,216.20 483.00,216.08 483.50,215.92 484.00,215.74 484.50,215.54 485.00,215.32 485.50,215.07 486.00,214.81 486.50,214.53 487.00,214.23 487.50,213.93 488.00,213.61 488.50,213.29 489.00,212.95 489.50,212.62 490.00,212.28 490.50,211.94 491.00,211.60 491.50,211.27 492.00,210.92 492.50,210.53 493.00,210.10 493.50,209.64 494.00,209.15 494.50,208.64 495.00,208.10 495.50,207.55 496.00,206.99 496.50,206.42 497.00,205.84 497.50,205.27 498.00,204.70 498.50,204.15 499.00,203.61 499.50,203.09 500.00,202.59 500.50,202.11 501.00,201.63 501.50,201.12 502.00,200.62 502.50,200.10 503.00,199.59 503.50,199.08 504.00,198.58 504.50,198.08 505.00,197.61 505.50,197.15 506.00,196.71 506.50,196.30 507.00,195.91 507.50,195.57 508.00,195.25 508.50,194.98 509.00,194.76 509.50,194.55 510.00,194.34 510.50,194.14 511.00,193.93 511.50,193.74 512.00,193.54 512.50,193.36 513.00,193.18 513.50,193.00 514.00,192.84 514.50,192.68 515.00,192.53 515.50,192.39 516.00,192.25 516.50,192.13 517.00,192.02 517.50,191.92 518.00,191.84 518.50,191.76 519.00,191.70 519.50,191.65 520.00,191.62 520.50,191.60 521.00,191.61 521.50,191.66 522.00,191.78 522.50,191.94 523.00,192.16 523.50,192.41 524.00,192.71 524.50,193.03 525.00,193.38 525.50,193.74 526.00,194.12 526.50,194.51 527.00,194.91 527.50,195.30 528.00,195.68 528.50,196.05 529.00,196.45 529.50,196.87 530.00,197.33 530.50,197.81 531.00,198.30 531.50,198.82 532.00,199.35 532.50,199.88 533.00,200.43 533.50,200.98 534.00,201.53 534.50,202.08 535.00,202.62 535.50,203.19 536.00,203.79 536.50,204.41 537.00,205.05 537.50,205.70 538.00,206.34 538.50,206.97 539.00,207.59 539.50,208.18 540.00,208.74 540.50,209.27 541.00,209.74 541.50,210.16 542.00,210.56 542.50,210.95 543.00,211.32 543.50,211.67 544.00,212.01 544.50,212.34 545.00,212.66 545.50,212.97 546.00,213.27 546.50,213.57 547.00,213.85 547.50,214.13 548.00,214.40 548.50,214.67 549.00,214.93 549.50,215.19 550.00,215.45 550.50,215.71 551.00,215.98 551.50,216.24 552.00,216.50 552.50,216.76 553.00,217.03 553.50,217.28 554.00,217.54 554.50,217.79 555.00,218.03 555.50,218.27 556.00,218.50 556.50,218.72 557.00,218.93 557.50,219.13 558.00,219.32 558.50,219.49 559.00,219.66 559.50,219.81 560.00,219.94 560.50,220.06 561.00,220.16 561.50,220.26 562.00,220.35 562.50,220.44 563.00,220.52 563.50,220.61 564.00,220.68 564.50,220.76 565.00,220.83 565.50,220.90 566.00,220.97 566.50,221.03 567.00,221.09 567.50,221.15 568.00,221.21 568.50,221.26 569.00,221.32 569.50,221.37 570.00,221.42 570.50,221.48 571.00,221.53 571.50,221.58 572.00,221.63 572.50,221.68 573.00,221.73 573.50,221.78 574.00,221.83 574.50,221.88 575.00,221.94 575.50,222.00 576.00,222.05 576.50,222.11 577.00,222.17 577.50,222.23 578.00,222.28 578.50,222.34 579.00,222.39 579.50,222.45 580.00,222.50 580.50,222.55 581.00,222.60 581.50,222.65 582.00,222.69 582.50,222.73 583.00,222.77 583.50,222.80 584.00,222.83 584.50,222.85 585.00,222.87 585.50,222.89 586.00,222.90 586.50,222.90 587.00,222.90 587.50,222.90 588.00,222.90 588.50,222.89 589.00,222.89 589.50,222.89 590.00,222.88 590.50,222.87 591.00,222.86 591.50,222.85 592.00,222.84 592.50,222.82 593.00,222.81 593.50,222.79 594.00,222.77 594.50,222.74 595.00,222.72 595.50,222.69 596.00,222.66 596.50,222.62 597.00,222.58 597.50,222.54" fill="none" stroke="#000" stroke-width="0.9" stroke-linejoin="round" />
<path d="M374.65 228.14h3.3v3.3h-3.3z M376.93 229.30h3.3v3.3h-3.3z M379.20 228.96h3.3v3.3h-3.3z M381.47 228.86h3.3v3.3h-3.3z M383.75 229.69h3.3v3.3h-3.3z M386.02 226.35h3.3v3.3h-3.3z M388.30 226.69h3.3v3.3h-3.3z M390.57 225.58h3.3v3.3h-3.3z M392.85 226.46h3.3v3.3h-3.3z M395.12 226.85h3.3v3.3h-3.3z M397.40 224.47h3.3v3.3h-3.3z M399.67 223.37h3.3v3.3h-3.3z M401.95 217.46h3.3v3.3h-3.3z M404.22 215.09h3.3v3.3h-3.3z M406.50 208.05h3.3v3.3h-3.3z M408.77 202.63h3.3v3.3h-3.3z M411.05 190.41h3.3v3.3h-3.3z M413.32 178.91h3.3v3.3h-3.3z M415.60 166.56h3.3v3.3h-3.3z M417.87 146.38h3.3v3.3h-3.3z M420.15 125.97h3.3v3.3h-3.3z M422.42 109.35h3.3v3.3h-3.3z M424.70 93.43h3.3v3.3h-3.3z M426.97 88.98h3.3v3.3h-3.3z M429.25 92.77h3.3v3.3h-3.3z M431.52 98.36h3.3v3.3h-3.3z M433.80 105.07h3.3v3.3h-3.3z M436.07 114.24h3.3v3.3h-3.3z M438.35 124.48h3.3v3.3h-3.3z M440.62 131.33h3.3v3.3h-3.3z M442.90 143.90h3.3v3.3h-3.3z M445.17 155.28h3.3v3.3h-3.3z M447.45 167.79h3.3v3.3h-3.3z M449.72 177.21h3.3v3.3h-3.3z M452.00 187.24h3.3v3.3h-3.3z M454.27 194.43h3.3v3.3h-3.3z M456.55 201.06h3.3v3.3h-3.3z M458.82 205.42h3.3v3.3h-3.3z M461.10 209.34h3.3v3.3h-3.3z M463.37 212.92h3.3v3.3h-3.3z M465.65 212.61h3.3v3.3h-3.3z M467.92 212.17h3.3v3.3h-3.3z M470.20 213.89h3.3v3.3h-3.3z M472.47 212.68h3.3v3.3h-3.3z M474.75 213.43h3.3v3.3h-3.3z M477.02 213.39h3.3v3.3h-3.3z M479.30 212.21h3.3v3.3h-3.3z M481.57 210.16h3.3v3.3h-3.3z M483.85 211.12h3.3v3.3h-3.3z M486.12 211.05h3.3v3.3h-3.3z M488.40 208.80h3.3v3.3h-3.3z M490.67 208.39h3.3v3.3h-3.3z M492.95 207.19h3.3v3.3h-3.3z M495.22 203.34h3.3v3.3h-3.3z M497.50 203.07h3.3v3.3h-3.3z M499.77 201.39h3.3v3.3h-3.3z M502.05 198.49h3.3v3.3h-3.3z M504.32 196.40h3.3v3.3h-3.3z M506.60 194.67h3.3v3.3h-3.3z M508.87 194.96h3.3v3.3h-3.3z M511.15 191.80h3.3v3.3h-3.3z M513.42 190.86h3.3v3.3h-3.3z M515.70 190.96h3.3v3.3h-3.3z M517.97 188.99h3.3v3.3h-3.3z M520.25 188.39h3.3v3.3h-3.3z M522.52 190.20h3.3v3.3h-3.3z M524.80 193.23h3.3v3.3h-3.3z M527.07 195.09h3.3v3.3h-3.3z M529.35 194.96h3.3v3.3h-3.3z M531.62 197.01h3.3v3.3h-3.3z M533.90 201.25h3.3v3.3h-3.3z M536.17 204.26h3.3v3.3h-3.3z M538.45 207.15h3.3v3.3h-3.3z M540.72 209.94h3.3v3.3h-3.3z M543.00 212.14h3.3v3.3h-3.3z M545.27 212.41h3.3v3.3h-3.3z M547.55 214.06h3.3v3.3h-3.3z M549.82 213.37h3.3v3.3h-3.3z M552.10 214.47h3.3v3.3h-3.3z M554.37 217.12h3.3v3.3h-3.3z M556.65 218.51h3.3v3.3h-3.3z M558.92 219.22h3.3v3.3h-3.3z M561.20 219.50h3.3v3.3h-3.3z M563.47 220.06h3.3v3.3h-3.3z M565.75 220.38h3.3v3.3h-3.3z M568.02 217.81h3.3v3.3h-3.3z M570.30 219.16h3.3v3.3h-3.3z M572.57 220.71h3.3v3.3h-3.3z M574.85 221.12h3.3v3.3h-3.3z M577.12 219.06h3.3v3.3h-3.3z M579.40 222.25h3.3v3.3h-3.3z M581.67 220.65h3.3v3.3h-3.3z M583.95 220.98h3.3v3.3h-3.3z M586.22 221.55h3.3v3.3h-3.3z M588.50 222.05h3.3v3.3h-3.3z M590.77 219.60h3.3v3.3h-3.3z M593.05 222.17h3.3v3.3h-3.3z M595.32 221.02h3.3v3.3h-3.3z" fill="#000"/>
<polyline points="374.50,232.00 375.00,232.01 375.50,232.02 376.00,232.02 376.50,232.03 377.00,232.04 377.50,232.05 378.00,232.06 378.50,232.07 379.00,232.09 379.50,232.10 380.00,232.11 380.50,232.13 381.00,232.14 381.50,232.16 382.00,232.18 382.50,232.19 383.00,232.21 383.50,232.23 384.00,232.25 384.50,232.27 385.00,232.29 385.50,232.31 386.00,232.33 386.50,232.35 387.00,232.37 387.50,232.39 388.00,232.41 388.50,232.43 389.00,232.46 389.50,232.48 390.00,232.50 390.50,232.52 391.00,232.55 391.50,232.59 392.00,232.62 392.50,232.66 393.00,232.70 393.50,232.75 394.00,232.79 394.50,232.84 395.00,232.89 395.50,232.94 396.00,233.00 396.50,233.05 397.00,233.10 397.50,233.16 398.00,233.21 398.50,233.26 399.00,233.32 399.50,233.37 400.00,233.42 400.50,233.47 401.00,233.51 401.50,233.56 402.00,233.60 402.50,233.64 403.00,233.67 403.50,233.70 404.00,233.73 404.50,233.75 405.00,233.77 405.50,233.79 406.00,233.80 406.50,233.80 407.00,233.80 407.50,233.79 408.00,233.77 408.50,233.74 409.00,233.71 409.50,233.67 410.00,233.62 410.50,233.57 411.00,233.51 411.50,233.45 412.00,233.38 412.50,233.30 413.00,233.22 413.50,233.14 414.00,233.05 414.50,232.96 415.00,232.87 415.50,232.77 416.00,232.67 416.50,232.57 417.00,232.47 417.50,232.37 418.00,232.26 418.50,232.15 419.00,232.05 419.50,231.94 420.00,231.84 420.50,231.73 421.00,231.63 421.50,231.52 422.00,231.42 422.50,231.32 423.00,231.22 423.50,231.12 424.00,231.01 424.50,230.91 425.00,230.80 425.50,230.68 426.00,230.57 426.50,230.45 427.00,230.33 427.50,230.21 428.00,230.08 428.50,229.95 429.00,229.82 429.50,229.69 430.00,229.55 430.50,229.41 431.00,229.27 431.50,229.12 432.00,228.97 432.50,228.82 433.00,228.66 433.50,228.50 434.00,228.34 434.50,228.18 435.00,228.00 435.50,227.83 436.00,227.64 436.50,227.45 437.00,227.26 437.50,227.05 438.00,226.84 438.50,226.62 439.00,226.39 439.50,226.15 440.00,225.90 440.50,225.63 441.00,225.33 441.50,225.01 442.00,224.67 442.50,224.31 443.00,223.93 443.50,223.55 444.00,223.16 444.50,222.77 445.00,222.39 445.50,222.00 446.00,221.63 446.50,221.27 447.00,220.92 447.50,220.59 448.00,220.26 448.50,219.94 449.00,219.62 449.50,219.31 450.00,218.99 450.50,218.66 451.00,218.32 451.50,217.98 452.00,217.62 452.50,217.24 453.00,216.85 453.50,216.43 454.00,215.99 454.50,215.52 455.00,215.04 455.50,214.53 456.00,214.01 456.50,213.46 457.00,212.91 457.50,212.34 458.00,211.76 458.50,211.17 459.00,210.57 459.50,209.97 460.00,209.35 460.50,208.72 461.00,208.07 461.50,207.40 462.00,206.71 462.50,206.01 463.00,205.29 463.50,204.57 464.00,203.84 464.50,203.10 465.00,202.36 465.50,201.62 466.00,200.88 466.50,200.14 467.00,199.41 467.50,198.70 468.00,198.00 468.50,197.30 469.00,196.60 469.50,195.87 470.00,195.11 470.50,194.31 471.00,193.46 471.50,192.53 472.00,191.51 472.50,190.40 473.00,189.23 473.50,188.02 474.00,186.78 474.50,185.55 475.00,184.33 475.50,183.15 476.00,182.03 476.50,180.94 477.00,179.86 477.50,178.80 478.00,177.73 478.50,176.66 479.00,175.58 479.50,174.47 480.00,173.33 480.50,172.16 481.00,170.95 481.50,169.71 482.00,168.46 482.50,167.20 483.00,165.95 483.50,164.71 484.00,163.50 484.50,162.28 485.00,161.07 485.50,159.83 486.00,158.57 486.50,157.27 487.00,155.93 487.50,154.50 488.00,153.01 488.50,151.46 489.00,149.89 489.50,148.32 490.00,146.75 490.50,145.22 491.00,143.75 491.50,142.35 492.00,140.98 492.50,139.65 493.00,138.35 493.50,137.06 494.00,135.79 494.50,134.54 495.00,133.29 495.50,132.05 496.00,130.80 496.50,129.56 497.00,128.34 497.50,127.11 498.00,125.90 498.50,124.70 499.00,123.51 499.50,122.33 500.00,121.16 500.50,120.01 501.00,118.87 501.50,117.75 502.00,116.64 502.50,115.53 503.00,114.43 503.50,113.33 504.00,112.23 504.50,111.12 505.00,109.99 505.50,108.80 506.00,107.60 506.50,106.43 507.00,105.34 507.50,104.35 508.00,103.49 508.50,102.66 509.00,101.85 509.50,101.09 510.00,100.37 510.50,99.71 511.00,99.12 511.50,98.61 512.00,98.20 512.50,97.84 513.00,97.48 513.50,97.13 514.00,96.80 514.50,96.48 515.00,96.18 515.50,95.90 516.00,95.64 516.50,95.41 517.00,95.22 517.50,95.06 518.00,94.93 518.50,94.85 519.00,94.80 519.50,94.81 520.00,94.85 520.50,94.94 521.00,95.06 521.50,95.20 522.00,95.37 522.50,95.56 523.00,95.76 523.50,95.98 524.00,96.20 524.50,96.46 525.00,96.78 525.50,97.16 526.00,97.60 526.50,98.08 527.00,98.60 527.50,99.16 528.00,99.75 528.50,100.36 529.00,100.98 529.50,101.62 530.00,102.26 530.50,102.96 531.00,103.71 531.50,104.52 532.00,105.37 532.50,106.26 533.00,107.18 533.50,108.13 534.00,109.11 534.50,110.10 535.00,111.10 535.50,112.11 536.00,113.17 536.50,114.28 537.00,115.42 537.50,116.59 538.00,117.79 538.50,119.00 539.00,120.23 539.50,121.46 540.00,122.68 540.50,123.90 541.00,125.13 541.50,126.40 542.00,127.69 542.50,128.99 543.00,130.30 543.50,131.60 544.00,132.88 544.50,134.14 545.00,135.35 545.50,136.52 546.00,137.64 546.50,138.67 547.00,139.66 547.50,140.61 548.00,141.54 548.50,142.50 549.00,143.49 549.50,144.53 550.00,145.66 550.50,146.86 551.00,148.12 551.50,149.43 552.00,150.79 552.50,152.17 553.00,153.58 553.50,155.00 554.00,156.43 554.50,157.85 555.00,159.26 555.50,160.65 556.00,162.00 556.50,163.35 557.00,164.71 557.50,166.09 558.00,167.48 558.50,168.88 559.00,170.27 559.50,171.66 560.00,173.04 560.50,174.40 561.00,175.74 561.50,177.05 562.00,178.32 562.50,179.56 563.00,180.76 563.50,181.91 564.00,183.00 564.50,184.05 565.00,185.07 565.50,186.06 566.00,187.02 566.50,187.96 567.00,188.88 567.50,189.77 568.00,190.65 568.50,191.52 569.00,192.37 569.50,193.22 570.00,194.05 570.50,194.88 571.00,195.71 571.50,196.53 572.00,197.36 572.50,198.18 573.00,199.02 573.50,199.86 574.00,200.72 574.50,201.60 575.00,202.49 575.50,203.41 576.00,204.33 576.50,205.26 577.00,206.18 577.50,207.09 578.00,207.99 578.50,208.87 579.00,209.72 579.50,210.55 580.00,211.33 580.50,212.07 581.00,212.77 581.50,213.40 582.00,213.98 582.50,214.50 583.00,214.98 583.50,215.44 584.00,215.88 584.50,216.30 585.00,216.70 585.50,217.08 586.00,217.44 586.50,217.79 587.00,218.13 587.50,218.46 588.00,218.78 588.50,219.09 589.00,219.40 589.50,219.70 590.00,220.00 590.50,220.30 591.00,220.59 591.50,220.87 592.00,221.16 592.50,221.43 593.00,221.70 593.50,221.96 594.00,222.22 594.50,222.47 595.00,222.71 595.50,222.95 596.00,223.17 596.50,223.39 597.00,223.60 597.50,223.81" fill="none" stroke="#f0001c" stroke-width="0.9" stroke-linejoin="round" />
<path d="M374.65 230.42h3.3v3.3h-3.3z M376.93 231.92h3.3v3.3h-3.3z M379.20 231.84h3.3v3.3h-3.3z M381.47 230.01h3.3v3.3h-3.3z M383.75 230.33h3.3v3.3h-3.3z M386.02 230.17h3.3v3.3h-3.3z M388.30 231.47h3.3v3.3h-3.3z M390.57 230.93h3.3v3.3h-3.3z M392.85 232.01h3.3v3.3h-3.3z M395.12 229.40h3.3v3.3h-3.3z M397.40 233.39h3.3v3.3h-3.3z M399.67 231.78h3.3v3.3h-3.3z M401.95 232.81h3.3v3.3h-3.3z M404.22 231.99h3.3v3.3h-3.3z M406.50 231.69h3.3v3.3h-3.3z M408.77 232.44h3.3v3.3h-3.3z M411.05 232.53h3.3v3.3h-3.3z M413.32 231.00h3.3v3.3h-3.3z M415.60 230.60h3.3v3.3h-3.3z M417.87 231.04h3.3v3.3h-3.3z M420.15 228.85h3.3v3.3h-3.3z M422.42 227.68h3.3v3.3h-3.3z M424.70 229.27h3.3v3.3h-3.3z M426.97 227.53h3.3v3.3h-3.3z M429.25 225.53h3.3v3.3h-3.3z M431.52 226.06h3.3v3.3h-3.3z M433.80 225.68h3.3v3.3h-3.3z M436.07 224.00h3.3v3.3h-3.3z M438.35 222.61h3.3v3.3h-3.3z M440.62 222.86h3.3v3.3h-3.3z M442.90 222.07h3.3v3.3h-3.3z M445.17 219.14h3.3v3.3h-3.3z M447.45 217.09h3.3v3.3h-3.3z M449.72 216.84h3.3v3.3h-3.3z M452.00 215.44h3.3v3.3h-3.3z M454.27 212.11h3.3v3.3h-3.3z M456.55 210.47h3.3v3.3h-3.3z M458.82 208.25h3.3v3.3h-3.3z M461.10 203.77h3.3v3.3h-3.3z M463.37 199.77h3.3v3.3h-3.3z M465.65 197.71h3.3v3.3h-3.3z M467.92 194.38h3.3v3.3h-3.3z M470.20 191.39h3.3v3.3h-3.3z M472.47 183.41h3.3v3.3h-3.3z M474.75 178.78h3.3v3.3h-3.3z M477.02 173.71h3.3v3.3h-3.3z M479.30 167.51h3.3v3.3h-3.3z M481.57 163.88h3.3v3.3h-3.3z M483.85 158.76h3.3v3.3h-3.3z M486.12 151.22h3.3v3.3h-3.3z M488.40 146.47h3.3v3.3h-3.3z M490.67 139.37h3.3v3.3h-3.3z M492.95 133.33h3.3v3.3h-3.3z M495.22 127.43h3.3v3.3h-3.3z M497.50 122.56h3.3v3.3h-3.3z M499.77 114.80h3.3v3.3h-3.3z M502.05 111.92h3.3v3.3h-3.3z M504.32 106.67h3.3v3.3h-3.3z M506.60 99.48h3.3v3.3h-3.3z M508.87 98.41h3.3v3.3h-3.3z M511.15 95.70h3.3v3.3h-3.3z M513.42 95.34h3.3v3.3h-3.3z M515.70 92.97h3.3v3.3h-3.3z M517.97 93.15h3.3v3.3h-3.3z M520.25 94.06h3.3v3.3h-3.3z M522.52 93.67h3.3v3.3h-3.3z M524.80 97.04h3.3v3.3h-3.3z M527.07 98.87h3.3v3.3h-3.3z M529.35 102.60h3.3v3.3h-3.3z M531.62 105.48h3.3v3.3h-3.3z M533.90 111.76h3.3v3.3h-3.3z M536.17 116.38h3.3v3.3h-3.3z M538.45 121.08h3.3v3.3h-3.3z M540.72 127.71h3.3v3.3h-3.3z M543.00 134.24h3.3v3.3h-3.3z M545.27 139.83h3.3v3.3h-3.3z M547.55 140.52h3.3v3.3h-3.3z M549.82 148.69h3.3v3.3h-3.3z M552.10 154.58h3.3v3.3h-3.3z M554.37 160.31h3.3v3.3h-3.3z M556.65 165.56h3.3v3.3h-3.3z M558.92 174.33h3.3v3.3h-3.3z M561.20 177.37h3.3v3.3h-3.3z M563.47 184.29h3.3v3.3h-3.3z M565.75 189.38h3.3v3.3h-3.3z M568.02 190.10h3.3v3.3h-3.3z M570.30 195.29h3.3v3.3h-3.3z M572.57 198.02h3.3v3.3h-3.3z M574.85 203.87h3.3v3.3h-3.3z M577.12 209.36h3.3v3.3h-3.3z M579.40 213.41h3.3v3.3h-3.3z M581.67 211.68h3.3v3.3h-3.3z M583.95 214.87h3.3v3.3h-3.3z M586.22 217.83h3.3v3.3h-3.3z M588.50 220.18h3.3v3.3h-3.3z M590.77 220.20h3.3v3.3h-3.3z M593.05 220.10h3.3v3.3h-3.3z M595.32 222.27h3.3v3.3h-3.3z" fill="#f0001c"/>
<path d="M369.8 72.6H598.4V244.3H369.8 M373.8 72.6V244.3" fill="none" stroke="#555" stroke-width="1.5"/>
<path d="M385.4 72.6v2.5 M385.4 244.3v-2.5 M396.8 72.6v4.5 M396.8 244.3v-4.5 M408.2 72.6v2.5 M408.2 244.3v-2.5 M419.5 72.6v2.5 M419.5 244.3v-2.5 M430.9 72.6v2.5 M430.9 244.3v-2.5 M442.2 72.6v4.5 M442.2 244.3v-4.5 M453.6 72.6v2.5 M453.6 244.3v-2.5 M464.9 72.6v2.5 M464.9 244.3v-2.5 M476.2 72.6v2.5 M476.2 244.3v-2.5 M487.6 72.6v4.5 M487.6 244.3v-4.5 M498.9 72.6v2.5 M498.9 244.3v-2.5 M510.3 72.6v2.5 M510.3 244.3v-2.5 M521.6 72.6v2.5 M521.6 244.3v-2.5 M533.0 72.6v4.5 M533.0 244.3v-4.5 M544.4 72.6v2.5 M544.4 244.3v-2.5 M555.7 72.6v2.5 M555.7 244.3v-2.5 M567.0 72.6v2.5 M567.0 244.3v-2.5 M578.4 72.6v4.5 M578.4 244.3v-4.5 M589.8 72.6v2.5 M589.8 244.3v-2.5 M369.8 97H378.3 M369.8 121.5H378.3 M369.8 146.2H378.3 M369.8 170.8H378.3 M369.8 195.4H378.3 M369.8 219.9H378.3" stroke="#444" stroke-width="1.1" fill="none"/>
<text transform="translate(349.27,13.10) scale(1.077,1)" font-size="17.18" font-weight="bold" fill="#000" >(b)</text>
<text transform="translate(359.10,215.67) rotate(-90) scale(1.020,1)" font-size="18.85" font-weight="normal" fill="#000">Intensity (a.u.)</text>
<text transform="translate(389.45,260.70) scale(1.025,1)" font-size="14.59" font-weight="normal" fill="#000" >98</text>
<text transform="translate(430.21,260.70) scale(1.042,1)" font-size="14.59" font-weight="normal" fill="#000" >100</text>
<text transform="translate(477.34,260.70) scale(1.013,1)" font-size="14.59" font-weight="normal" fill="#000" >102</text>
<text transform="translate(521.29,260.70) scale(0.974,1)" font-size="14.59" font-weight="normal" fill="#000" >104</text>
<text transform="translate(567.04,260.70) scale(1.015,1)" font-size="14.59" font-weight="normal" fill="#000" >106</text>
<text transform="translate(404.33,282.40) scale(0.931,1)" font-size="20.43" font-weight="normal" fill="#000" >Binding energy (eV)</text>
<rect x="508.5" y="143.7" width="82.2" height="35.9" fill="#fff" stroke="#333" stroke-width="1.1"/>
<rect x="516.3" y="149.1" width="3.4" height="3.4" fill="#000"/>
<line x1="512.2" y1="162.1" x2="524.9" y2="162.1" stroke="#555" stroke-width="1.2"/>
<line x1="511.8" y1="173.3" x2="524.9" y2="173.3" stroke="#333" stroke-width="0.9" stroke-dasharray="1.2,1.2"/>
<text transform="translate(526.25,152.80) scale(1.060,1)" font-size="9.50" font-weight="bold" fill="#000" >Raw Intensity</text>
<text transform="translate(526.35,164.30) scale(1.070,1)" font-size="9.35" font-weight="bold" fill="#000" >Peak Sum</text>
<text transform="translate(526.35,175.20) scale(1.125,1)" font-size="9.06" font-weight="bold" fill="#000" >Background</text>
</svg>
</body></html>
